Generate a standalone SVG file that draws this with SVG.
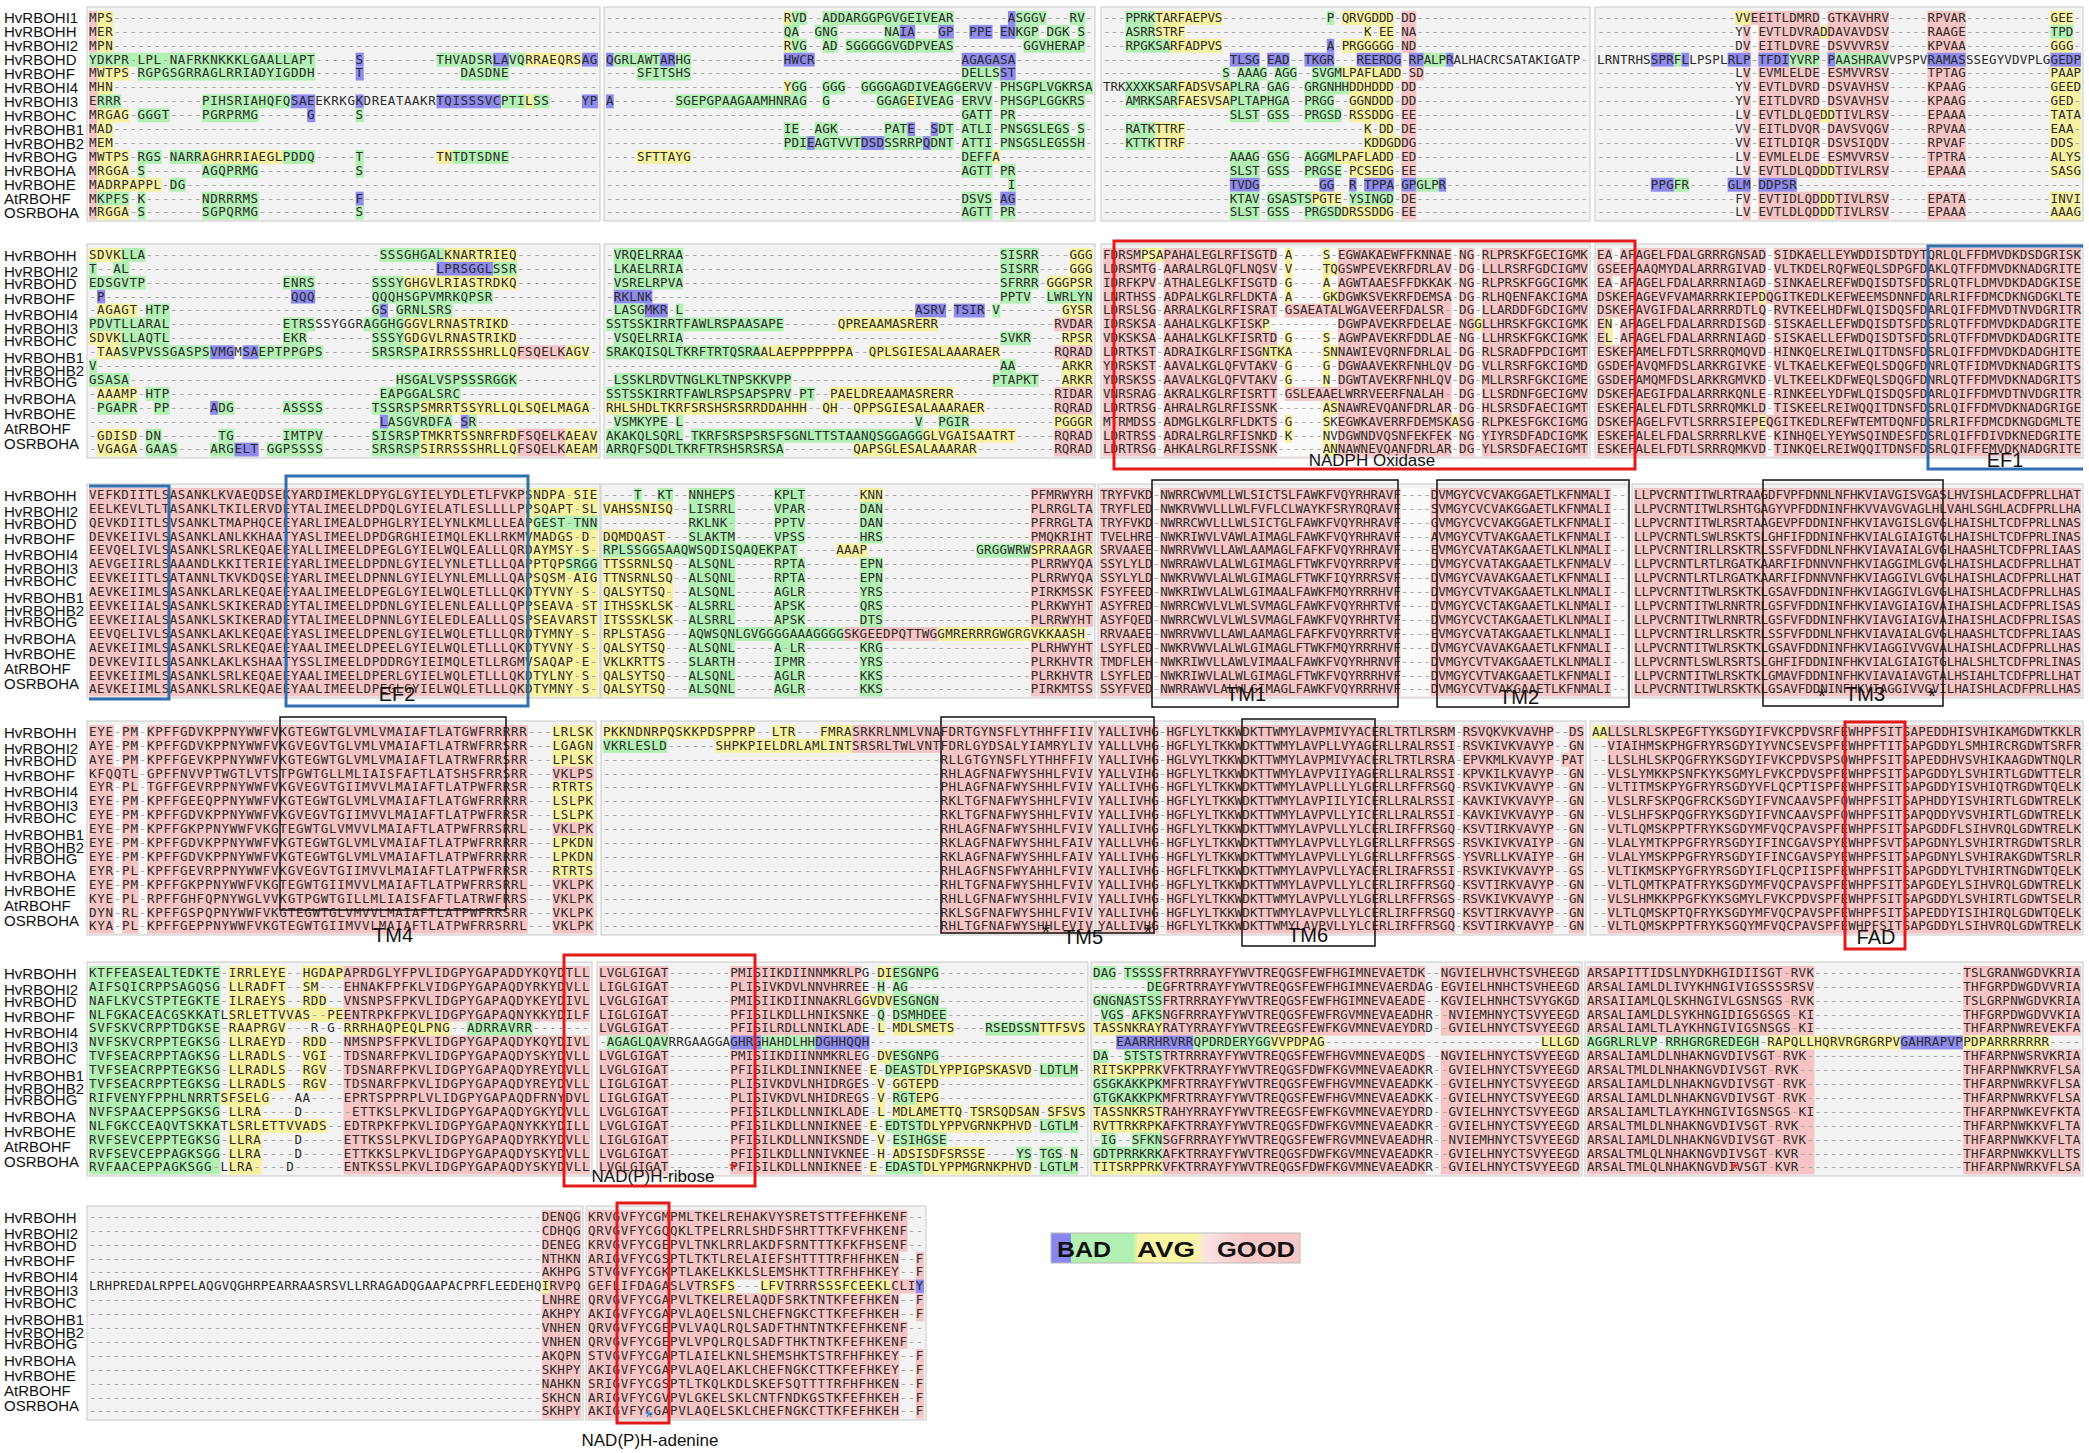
<svg xmlns="http://www.w3.org/2000/svg" width="2089" height="1453" viewBox="0 0 2089 1453">
<defs>
<style>
.lab{font-family:"Liberation Sans",Arial,sans-serif;font-size:15px;fill:#111}
.sq{font-family:"DejaVu Sans Mono","Liberation Mono",monospace;font-size:12.5px;fill:#2a2a2a}
.d{fill:#a8a8a8}
.blk{fill:#f3f3f3;stroke:#c9c9c9;stroke-width:1}
.p{fill:#f6c4c4}.y{fill:#f8f2a0}.g{fill:#b2f0b4}.b{fill:#8e8aee}.w{fill:#fafafa}
.rb{fill:none;stroke:#e31a1a;stroke-width:3}
.bb{fill:none;stroke:#2f6fb2;stroke-width:3}
.kb{fill:none;stroke:#111;stroke-width:1.5}
.ann{font-family:"Liberation Sans",Arial,sans-serif;font-size:20px;fill:#111;text-anchor:middle}
.ann2{font-family:"Liberation Sans",Arial,sans-serif;font-size:17px;fill:#111;text-anchor:middle}
</style>
<linearGradient id="leg" x1="0" x2="1" y1="0" y2="0">
<stop offset="0" stop-color="#8a86f0"/><stop offset="0.08" stop-color="#8a86f0"/>
<stop offset="0.08" stop-color="#b2f0b4"/><stop offset="0.33" stop-color="#b2f0b4"/>
<stop offset="0.35" stop-color="#f8f4a4"/><stop offset="0.58" stop-color="#f8f4a4"/>
<stop offset="0.62" stop-color="#fbe3e3"/><stop offset="0.78" stop-color="#f8c8c8"/><stop offset="1" stop-color="#f8c8c8"/>
</linearGradient>
</defs>
<rect width="2089" height="1453" fill="#fff"/>

<g id="labels" class="lab">
<text x="4" y="23.4">HvRBOHI1</text><text x="4" y="37.3">HvRBOHH</text><text x="4" y="51.2">HvRBOHI2</text><text x="4" y="65.1">HvRBOHD</text><text x="4" y="79">HvRBOHF</text><text x="4" y="92.9">HvRBOHI4</text><text x="4" y="106.8">HvRBOHI3</text><text x="4" y="120.7">HvRBOHC</text><text x="4" y="134.6">HvRBOHB1</text><text x="4" y="148.5">HvRBOHB2</text><text x="4" y="162.4">HvRBOHG</text><text x="4" y="176.3">HvRBOHA</text><text x="4" y="190.2">HvRBOHE</text><text x="4" y="204.1">AtRBOHF</text><text x="4" y="218">OSRBOHA</text>
<g transform="translate(0,244)"><text x="4" y="17.4">HvRBOHH</text><text x="4" y="33.4">HvRBOHI2</text><text x="4" y="45.4">HvRBOHD</text><text x="4" y="60.4">HvRBOHF</text><text x="4" y="76.4">HvRBOHI4</text><text x="4" y="90.4">HvRBOHI3</text><text x="4" y="102.4">HvRBOHC</text><text x="4" y="119.4">HvRBOHB1</text><text x="4" y="132.4">HvRBOHB2</text><text x="4" y="143.4">HvRBOHG</text><text x="4" y="160.4">HvRBOHA</text><text x="4" y="175.4">HvRBOHE</text><text x="4" y="190.4">AtRBOHF</text><text x="4" y="205.4">OSRBOHA</text></g>
<g transform="translate(0,484)"><text x="4" y="17.4">HvRBOHH</text><text x="4" y="33.4">HvRBOHI2</text><text x="4" y="45.4">HvRBOHD</text><text x="4" y="60.4">HvRBOHF</text><text x="4" y="76.4">HvRBOHI4</text><text x="4" y="90.4">HvRBOHI3</text><text x="4" y="102.4">HvRBOHC</text><text x="4" y="119.4">HvRBOHB1</text><text x="4" y="132.4">HvRBOHB2</text><text x="4" y="143.4">HvRBOHG</text><text x="4" y="160.4">HvRBOHA</text><text x="4" y="175.4">HvRBOHE</text><text x="4" y="190.4">AtRBOHF</text><text x="4" y="205.4">OSRBOHA</text></g>
<g transform="translate(0,721)"><text x="4" y="17.4">HvRBOHH</text><text x="4" y="33.4">HvRBOHI2</text><text x="4" y="45.4">HvRBOHD</text><text x="4" y="60.4">HvRBOHF</text><text x="4" y="76.4">HvRBOHI4</text><text x="4" y="90.4">HvRBOHI3</text><text x="4" y="102.4">HvRBOHC</text><text x="4" y="119.4">HvRBOHB1</text><text x="4" y="132.4">HvRBOHB2</text><text x="4" y="143.4">HvRBOHG</text><text x="4" y="160.4">HvRBOHA</text><text x="4" y="175.4">HvRBOHE</text><text x="4" y="190.4">AtRBOHF</text><text x="4" y="205.4">OSRBOHA</text></g>
<g transform="translate(0,962)"><text x="4" y="17.4">HvRBOHH</text><text x="4" y="33.4">HvRBOHI2</text><text x="4" y="45.4">HvRBOHD</text><text x="4" y="60.4">HvRBOHF</text><text x="4" y="76.4">HvRBOHI4</text><text x="4" y="90.4">HvRBOHI3</text><text x="4" y="102.4">HvRBOHC</text><text x="4" y="119.4">HvRBOHB1</text><text x="4" y="132.4">HvRBOHB2</text><text x="4" y="143.4">HvRBOHG</text><text x="4" y="160.4">HvRBOHA</text><text x="4" y="175.4">HvRBOHE</text><text x="4" y="190.4">AtRBOHF</text><text x="4" y="205.4">OSRBOHA</text></g>
<g transform="translate(0,1206)"><text x="4" y="17.4">HvRBOHH</text><text x="4" y="33.4">HvRBOHI2</text><text x="4" y="45.4">HvRBOHD</text><text x="4" y="60.4">HvRBOHF</text><text x="4" y="76.4">HvRBOHI4</text><text x="4" y="90.4">HvRBOHI3</text><text x="4" y="102.4">HvRBOHC</text><text x="4" y="119.4">HvRBOHB1</text><text x="4" y="132.4">HvRBOHB2</text><text x="4" y="143.4">HvRBOHG</text><text x="4" y="160.4">HvRBOHA</text><text x="4" y="175.4">HvRBOHE</text><text x="4" y="190.4">AtRBOHF</text><text x="4" y="205.4">OSRBOHA</text></g>
</g>

<g id="r1a" transform="translate(87,7)" style="letter-spacing:0.55px">
<rect class="blk" width="513" height="214"/>
<g transform="translate(2,4) scale(8.08,13.9)">
<rect class="p" x="0" y="0" width="1" height="15"/><rect class="y" x="1" y="0" width="2" height="3"/>
<rect class="g" x="0" y="3" width="28" height="1"/><rect class="b" x="33" y="3" width="1" height="1"/><rect class="g" x="43" y="3" width="7" height="1"/><rect class="b" x="50" y="3" width="2" height="1"/><rect class="g" x="52" y="3" width="2" height="1"/><rect class="y" x="54" y="3" width="7" height="1"/><rect class="b" x="61" y="3" width="2" height="1"/>
<rect class="y" x="1" y="4" width="4" height="1"/><rect class="g" x="6" y="4" width="22" height="1"/><rect class="b" x="33" y="4" width="1" height="1"/><rect class="g" x="46" y="4" width="6" height="1"/>
<rect class="y" x="1" y="5" width="2" height="1"/>
<rect class="g" x="1" y="6" width="3" height="1"/><rect class="g" x="14" y="6" width="11" height="1"/><rect class="b" x="25" y="6" width="3" height="1"/><rect class="b" x="33" y="6" width="1" height="1"/><rect class="b" x="43" y="6" width="8" height="1"/><rect class="g" x="51" y="6" width="6" height="1"/><rect class="y" x="54" y="6" width="1" height="1"/><rect class="b" x="61" y="6" width="2" height="1"/>
<rect class="y" x="1" y="7" width="4" height="1"/><rect class="g" x="6" y="7" width="4" height="1"/><rect class="g" x="14" y="7" width="7" height="1"/><rect class="b" x="27" y="7" width="1" height="1"/><rect class="g" x="33" y="7" width="1" height="1"/>
<rect class="y" x="1" y="8" width="2" height="2"/>
<rect class="y" x="1" y="10" width="4" height="1"/><rect class="g" x="6" y="10" width="3" height="1"/><rect class="g" x="10" y="10" width="4" height="1"/><rect class="y" x="14" y="10" width="10" height="1"/><rect class="g" x="24" y="10" width="4" height="1"/><rect class="g" x="33" y="10" width="1" height="1"/><rect class="y" x="43" y="10" width="2" height="1"/><rect class="g" x="45" y="10" width="7" height="1"/>
<rect class="y" x="1" y="11" width="4" height="1"/><rect class="g" x="6" y="11" width="1" height="1"/><rect class="g" x="14" y="11" width="7" height="1"/><rect class="g" x="33" y="11" width="1" height="1"/>
<rect class="y" x="1" y="12" width="8" height="1"/><rect class="g" x="10" y="12" width="2" height="1"/>
<rect class="g" x="1" y="13" width="4" height="1"/><rect class="g" x="6" y="13" width="1" height="1"/><rect class="g" x="14" y="13" width="7" height="1"/><rect class="b" x="33" y="13" width="1" height="1"/>
<rect class="y" x="1" y="14" width="4" height="1"/><rect class="g" x="6" y="14" width="1" height="1"/><rect class="g" x="14" y="14" width="7" height="1"/><rect class="g" x="33" y="14" width="1" height="1"/>
</g>
<g class="sq" transform="translate(2,0)">
<text y="14.8">MPS<tspan class="d">------------------------------------------------------------</tspan></text>
<text y="28.7">MER<tspan class="d">------------------------------------------------------------</tspan></text>
<text y="42.6">MPN<tspan class="d">------------------------------------------------------------</tspan></text>
<text y="56.5">YDKPR<tspan class="d">-</tspan>LPL<tspan class="d">-</tspan>NAFRKNKKKLGAALLAPT<tspan class="d">-----</tspan>S<tspan class="d">---------</tspan>THVADSRLAVQRRAEQRSAG</text>
<text y="70.4">MWTPS<tspan class="d">-</tspan>RGPGSGRRAGLRRIADYIGDDH<tspan class="d">-----</tspan>T<tspan class="d">------------</tspan>DASDNE<tspan class="d">-----------</tspan></text>
<text y="84.3">MHN<tspan class="d">------------------------------------------------------------</tspan></text>
<text y="98.2">ERRR<tspan class="d">----------</tspan>PIHSRIAHQFQSAEEKRKGKDREATAAKRTQISSSVCPTILSS<tspan class="d">----</tspan>YP</text>
<text y="112.1">MRGAG<tspan class="d">-</tspan>GGGT<tspan class="d">----</tspan>PGRPRMG<tspan class="d">------</tspan>G<tspan class="d">-----</tspan>S<tspan class="d">-----------------------------</tspan></text>
<text y="126">MAD<tspan class="d">------------------------------------------------------------</tspan></text>
<text y="139.9">MEM<tspan class="d">------------------------------------------------------------</tspan></text>
<text y="153.8">MWTPS<tspan class="d">-</tspan>RGS<tspan class="d">-</tspan>NARRAGHRRIAEGLPDDQ<tspan class="d">-----</tspan>T<tspan class="d">---------</tspan>TNTDTSDNE<tspan class="d">-----------</tspan></text>
<text y="167.7">MRGGA<tspan class="d">-</tspan>S<tspan class="d">-------</tspan>AGQPRMG<tspan class="d">------------</tspan>S<tspan class="d">-----------------------------</tspan></text>
<text y="181.6">MADRPAPPL<tspan class="d">-</tspan>DG<tspan class="d">---------------------------------------------------</tspan></text>
<text y="195.5">MKPFS<tspan class="d">-</tspan>K<tspan class="d">-------</tspan>NDRRRMS<tspan class="d">------------</tspan>F<tspan class="d">-----------------------------</tspan></text>
<text y="209.4">MRGGA<tspan class="d">-</tspan>S<tspan class="d">-------</tspan>SGPQRMG<tspan class="d">------------</tspan>S<tspan class="d">-----------------------------</tspan></text>
</g>
</g>

<g id="r1b" transform="translate(604,7)" style="letter-spacing:0.2px">
<rect class="blk" width="491" height="214"/>
<g transform="translate(2,4) scale(7.73,13.9)">
<rect class="y" x="23" y="0" width="1" height="1"/><rect class="g" x="24" y="0" width="2" height="1"/><rect class="g" x="28" y="0" width="17" height="1"/><rect class="b" x="52" y="0" width="1" height="1"/><rect class="g" x="53" y="0" width="4" height="1"/><rect class="g" x="60" y="0" width="2" height="1"/>
<rect class="g" x="23" y="1" width="2" height="1"/><rect class="g" x="27" y="1" width="3" height="1"/><rect class="g" x="36" y="1" width="2" height="1"/><rect class="b" x="38" y="1" width="2" height="1"/><rect class="b" x="43" y="1" width="2" height="1"/><rect class="b" x="47" y="1" width="3" height="1"/><rect class="b" x="51" y="1" width="2" height="1"/><rect class="g" x="53" y="1" width="3" height="1"/><rect class="g" x="57" y="1" width="3" height="1"/><rect class="g" x="61" y="1" width="1" height="1"/>
<rect class="y" x="23" y="2" width="1" height="1"/><rect class="g" x="24" y="2" width="2" height="1"/><rect class="g" x="28" y="2" width="2" height="1"/><rect class="g" x="31" y="2" width="14" height="1"/><rect class="g" x="54" y="2" width="8" height="1"/>
<rect class="b" x="0" y="3" width="1" height="1"/><rect class="g" x="1" y="3" width="6" height="1"/><rect class="b" x="7" y="3" width="2" height="1"/><rect class="g" x="9" y="3" width="2" height="1"/><rect class="b" x="23" y="3" width="4" height="1"/><rect class="b" x="46" y="3" width="7" height="1"/>
<rect class="g" x="4" y="4" width="7" height="1"/><rect class="g" x="46" y="4" width="5" height="1"/><rect class="b" x="51" y="4" width="2" height="1"/>
<rect class="y" x="23" y="5" width="1" height="1"/><rect class="g" x="24" y="5" width="2" height="1"/><rect class="g" x="28" y="5" width="3" height="1"/><rect class="g" x="33" y="5" width="13" height="1"/><rect class="g" x="46" y="5" width="4" height="1"/><rect class="g" x="51" y="5" width="12" height="1"/>
<rect class="b" x="0" y="6" width="1" height="1"/><rect class="g" x="9" y="6" width="17" height="1"/><rect class="g" x="28" y="6" width="1" height="1"/><rect class="g" x="35" y="6" width="10" height="1"/><rect class="y" x="39" y="6" width="1" height="1"/><rect class="g" x="46" y="6" width="4" height="1"/><rect class="g" x="51" y="6" width="11" height="1"/>
<rect class="g" x="46" y="7" width="4" height="1"/><rect class="g" x="51" y="7" width="2" height="1"/>
<rect class="g" x="23" y="8" width="2" height="1"/><rect class="g" x="27" y="8" width="3" height="1"/><rect class="g" x="36" y="8" width="3" height="1"/><rect class="b" x="39" y="8" width="1" height="1"/><rect class="b" x="42" y="8" width="1" height="1"/><rect class="g" x="43" y="8" width="2" height="1"/><rect class="g" x="46" y="8" width="4" height="1"/><rect class="g" x="51" y="8" width="9" height="1"/><rect class="g" x="61" y="8" width="1" height="1"/>
<rect class="g" x="23" y="9" width="22" height="1"/><rect class="b" x="26" y="9" width="1" height="1"/><rect class="b" x="33" y="9" width="3" height="1"/><rect class="b" x="41" y="9" width="1" height="1"/><rect class="g" x="46" y="9" width="4" height="1"/><rect class="g" x="51" y="9" width="11" height="1"/>
<rect class="y" x="4" y="10" width="7" height="1"/><rect class="g" x="46" y="10" width="4" height="1"/><rect class="y" x="50" y="10" width="1" height="1"/>
<rect class="g" x="46" y="11" width="4" height="1"/><rect class="g" x="51" y="11" width="2" height="1"/>
<rect class="g" x="52" y="12" width="1" height="1"/>
<rect class="g" x="46" y="13" width="4" height="1"/><rect class="b" x="51" y="13" width="2" height="1"/>
<rect class="g" x="46" y="14" width="4" height="1"/><rect class="g" x="51" y="14" width="2" height="1"/>
</g>
<g class="sq" transform="translate(2,0)">
<text y="14.8"><tspan class="d">-----------------------</tspan>RVD<tspan class="d">--</tspan>ADDARGGPGVGEIVEAR<tspan class="d">-------</tspan>ASGGV<tspan class="d">---</tspan>RV<tspan class="d">-</tspan></text>
<text y="28.7"><tspan class="d">-----------------------</tspan>QA<tspan class="d">--</tspan>GNG<tspan class="d">------</tspan>NAIA<tspan class="d">---</tspan>GP<tspan class="d">--</tspan>PPE<tspan class="d">-</tspan>ENKGP<tspan class="d">-</tspan>DGK<tspan class="d">-</tspan>S<tspan class="d">-</tspan></text>
<text y="42.6"><tspan class="d">-----------------------</tspan>RVG<tspan class="d">--</tspan>AD<tspan class="d">-</tspan>SGGGGGVGDPVEAS<tspan class="d">---------</tspan>GGVHERAP<tspan class="d">-</tspan></text>
<text y="56.5">QGRLAWTARHG<tspan class="d">------------</tspan>HWCR<tspan class="d">-------------------</tspan>AGAGASA<tspan class="d">----------</tspan></text>
<text y="70.4"><tspan class="d">----</tspan>SFITSHS<tspan class="d">-----------------------------------</tspan>DELLSST<tspan class="d">----------</tspan></text>
<text y="84.3"><tspan class="d">-----------------------</tspan>YGG<tspan class="d">--</tspan>GGG<tspan class="d">--</tspan>GGGGAGDIVEAGGERVV<tspan class="d">-</tspan>PHSGPLVGKRSA</text>
<text y="98.2">A<tspan class="d">--------</tspan>SGEPGPAAGAAMHNRAG<tspan class="d">--</tspan>G<tspan class="d">------</tspan>GGAGEIVEAG<tspan class="d">-</tspan>ERVV<tspan class="d">-</tspan>PHSGPLGGKRS<tspan class="d">-</tspan></text>
<text y="112.1"><tspan class="d">----------------------------------------------</tspan>GATT<tspan class="d">-</tspan>PR<tspan class="d">----------</tspan></text>
<text y="126"><tspan class="d">-----------------------</tspan>IE<tspan class="d">--</tspan>AGK<tspan class="d">------</tspan>PATE<tspan class="d">--</tspan>SDT<tspan class="d">-</tspan>ATLI<tspan class="d">-</tspan>PNSGSLEGS<tspan class="d">-</tspan>S<tspan class="d">-</tspan></text>
<text y="139.9"><tspan class="d">-----------------------</tspan>PDIEAGTVVTDSDSSRRPQDNT<tspan class="d">-</tspan>ATTI<tspan class="d">-</tspan>PNSGSLEGSSH<tspan class="d">-</tspan></text>
<text y="153.8"><tspan class="d">----</tspan>SFTTAYG<tspan class="d">-----------------------------------</tspan>DEFFA<tspan class="d">------------</tspan></text>
<text y="167.7"><tspan class="d">----------------------------------------------</tspan>AGTT<tspan class="d">-</tspan>PR<tspan class="d">----------</tspan></text>
<text y="181.6"><tspan class="d">----------------------------------------------------</tspan>I<tspan class="d">----------</tspan></text>
<text y="195.5"><tspan class="d">----------------------------------------------</tspan>DSVS<tspan class="d">-</tspan>AG<tspan class="d">----------</tspan></text>
<text y="209.4"><tspan class="d">----------------------------------------------</tspan>AGTT<tspan class="d">-</tspan>PR<tspan class="d">----------</tspan></text>
</g>
</g>

<g id="r1c" transform="translate(1101,7)" style="letter-spacing:-0.07px">
<rect class="blk" width="489" height="214"/>
<g transform="translate(2,4) scale(7.46,13.9)">
<rect class="g" x="3" y="0" width="4" height="1"/><rect class="y" x="7" y="0" width="9" height="1"/><rect class="g" x="30" y="0" width="1" height="1"/><rect class="y" x="32" y="0" width="7" height="1"/>
<rect class="g" x="3" y="1" width="4" height="1"/><rect class="y" x="7" y="1" width="4" height="1"/><rect class="y" x="35" y="1" width="1" height="1"/><rect class="y" x="37" y="1" width="2" height="1"/>
<rect class="g" x="3" y="2" width="6" height="1"/><rect class="y" x="9" y="2" width="7" height="1"/><rect class="b" x="30" y="2" width="1" height="1"/><rect class="y" x="32" y="2" width="7" height="1"/>
<rect class="p" x="40" y="0" width="2" height="3"/>
<rect class="b" x="17" y="3" width="4" height="1"/><rect class="b" x="22" y="3" width="3" height="1"/><rect class="b" x="27" y="3" width="4" height="1"/><rect class="b" x="34" y="3" width="6" height="1"/><rect class="b" x="41" y="3" width="2" height="1"/><rect class="g" x="43" y="3" width="3" height="1"/><rect class="b" x="46" y="3" width="1" height="1"/>
<rect class="g" x="16" y="4" width="1" height="1"/><rect class="g" x="18" y="4" width="4" height="1"/><rect class="g" x="23" y="4" width="3" height="1"/><rect class="g" x="28" y="4" width="4" height="1"/><rect class="y" x="32" y="4" width="8" height="1"/><rect class="p" x="41" y="4" width="2" height="1"/>
<rect class="g" x="3" y="5" width="7" height="1"/><rect class="y" x="10" y="5" width="7" height="1"/><rect class="g" x="17" y="5" width="4" height="1"/><rect class="g" x="22" y="5" width="3" height="1"/><rect class="g" x="27" y="5" width="6" height="1"/><rect class="y" x="33" y="5" width="6" height="1"/>
<rect class="g" x="3" y="6" width="7" height="1"/><rect class="y" x="10" y="6" width="7" height="1"/><rect class="g" x="17" y="6" width="8" height="1"/><rect class="g" x="27" y="6" width="4" height="1"/><rect class="y" x="33" y="6" width="6" height="1"/>
<rect class="g" x="17" y="7" width="4" height="1"/><rect class="g" x="22" y="7" width="3" height="1"/><rect class="g" x="27" y="7" width="5" height="1"/><rect class="y" x="33" y="7" width="6" height="1"/>
<rect class="g" x="3" y="8" width="4" height="1"/><rect class="y" x="7" y="8" width="4" height="1"/><rect class="y" x="35" y="8" width="1" height="1"/><rect class="y" x="37" y="8" width="2" height="1"/>
<rect class="g" x="3" y="9" width="4" height="1"/><rect class="y" x="7" y="9" width="4" height="1"/><rect class="y" x="35" y="9" width="5" height="1"/>
<rect class="p" x="40" y="5" width="2" height="5"/>
<rect class="g" x="17" y="10" width="4" height="1"/><rect class="g" x="22" y="10" width="3" height="1"/><rect class="g" x="27" y="10" width="4" height="1"/><rect class="y" x="31" y="10" width="8" height="1"/>
<rect class="g" x="17" y="11" width="4" height="1"/><rect class="g" x="22" y="11" width="3" height="1"/><rect class="g" x="27" y="11" width="5" height="1"/><rect class="y" x="33" y="11" width="6" height="1"/>
<rect class="p" x="40" y="10" width="2" height="2"/>
<rect class="b" x="17" y="12" width="4" height="1"/><rect class="b" x="29" y="12" width="2" height="1"/><rect class="b" x="33" y="12" width="1" height="1"/><rect class="b" x="35" y="12" width="4" height="1"/><rect class="b" x="40" y="12" width="2" height="1"/><rect class="g" x="42" y="12" width="3" height="1"/><rect class="b" x="45" y="12" width="1" height="1"/>
<rect class="g" x="17" y="13" width="4" height="1"/><rect class="g" x="22" y="13" width="6" height="1"/><rect class="y" x="28" y="13" width="4" height="1"/><rect class="g" x="33" y="13" width="6" height="1"/>
<rect class="g" x="17" y="14" width="4" height="1"/><rect class="g" x="22" y="14" width="3" height="1"/><rect class="g" x="27" y="14" width="5" height="1"/><rect class="y" x="32" y="14" width="7" height="1"/>
<rect class="p" x="40" y="13" width="2" height="2"/>
</g>
<g class="sq" transform="translate(2,0)">
<text y="14.8"><tspan class="d">---</tspan>PPRKTARFAEPVS<tspan class="d">--------------</tspan>P<tspan class="d">-</tspan>QRVGDDD<tspan class="d">-</tspan>DD<tspan class="d">-----------------------</tspan></text>
<text y="28.7"><tspan class="d">---</tspan>ASRRSTRF<tspan class="d">------------------------</tspan>K<tspan class="d">-</tspan>EE<tspan class="d">-</tspan>NA<tspan class="d">-----------------------</tspan></text>
<text y="42.6"><tspan class="d">---</tspan>RPGKSARFADPVS<tspan class="d">--------------</tspan>A<tspan class="d">-</tspan>PRGGGGG<tspan class="d">-</tspan>ND<tspan class="d">-----------------------</tspan></text>
<text y="56.5"><tspan class="d">-----------------</tspan>TLSG<tspan class="d">-</tspan>EAD<tspan class="d">--</tspan>TKGR<tspan class="d">---</tspan>REERDG<tspan class="d">-</tspan>RPALPRALHACRCSATAKIGATP<tspan class="d">-</tspan></text>
<text y="70.4"><tspan class="d">----------------</tspan>S<tspan class="d">-</tspan>AAAG<tspan class="d">-</tspan>AGG<tspan class="d">--</tspan>SVGMLPAFLADD<tspan class="d">-</tspan>SD<tspan class="d">----------------------</tspan></text>
<text y="84.3">TRKXXXKSARFADSVSAPLRA<tspan class="d">-</tspan>GAG<tspan class="d">--</tspan>GRGNHHDDHDDD<tspan class="d">-</tspan>DD<tspan class="d">-----------------------</tspan></text>
<text y="98.2"><tspan class="d">---</tspan>AMRKSARFAESVSAPLTAPHGA<tspan class="d">--</tspan>PRGG<tspan class="d">--</tspan>GGNDDD<tspan class="d">-</tspan>DD<tspan class="d">-----------------------</tspan></text>
<text y="112.1"><tspan class="d">-----------------</tspan>SLST<tspan class="d">-</tspan>GSS<tspan class="d">--</tspan>PRGSD<tspan class="d">-</tspan>RSSDDG<tspan class="d">-</tspan>EE<tspan class="d">-----------------------</tspan></text>
<text y="126"><tspan class="d">---</tspan>RATKTTRF<tspan class="d">------------------------</tspan>K<tspan class="d">-</tspan>DD<tspan class="d">-</tspan>DE<tspan class="d">-----------------------</tspan></text>
<text y="139.9"><tspan class="d">---</tspan>KTTKTTRF<tspan class="d">------------------------</tspan>KDDGDDG<tspan class="d">-----------------------</tspan></text>
<text y="153.8"><tspan class="d">-----------------</tspan>AAAG<tspan class="d">-</tspan>GSG<tspan class="d">--</tspan>AGGMLPAFLADD<tspan class="d">-</tspan>ED<tspan class="d">-----------------------</tspan></text>
<text y="167.7"><tspan class="d">-----------------</tspan>SLST<tspan class="d">-</tspan>GSS<tspan class="d">--</tspan>PRGSE<tspan class="d">-</tspan>PCSEDG<tspan class="d">-</tspan>EE<tspan class="d">-----------------------</tspan></text>
<text y="181.6"><tspan class="d">-----------------</tspan>TVDG<tspan class="d">--------</tspan>GG<tspan class="d">--</tspan>R<tspan class="d">-</tspan>TPPA<tspan class="d">-</tspan>GPGLPR<tspan class="d">-------------------</tspan></text>
<text y="195.5"><tspan class="d">-----------------</tspan>KTAV<tspan class="d">-</tspan>GSASTSPGTE<tspan class="d">-</tspan>YSINGD<tspan class="d">-</tspan>DE<tspan class="d">-----------------------</tspan></text>
<text y="209.4"><tspan class="d">-----------------</tspan>SLST<tspan class="d">-</tspan>GSS<tspan class="d">--</tspan>PRGSDDRSSDDG<tspan class="d">-</tspan>EE<tspan class="d">-----------------------</tspan></text>
</g>
</g>

<g id="r1d" transform="translate(1595,7)" style="letter-spacing:0.16px">
<rect class="blk" width="488" height="214"/>
<g transform="translate(2,4) scale(7.683,13.9)">
<rect class="p" x="19" y="0" width="19" height="3"/><rect class="p" x="19" y="4" width="19" height="8"/><rect class="p" x="19" y="13" width="19" height="2"/>
<rect class="w" x="20" y="1" width="1" height="2"/><rect class="w" x="20" y="4" width="1" height="8"/><rect class="w" x="20" y="13" width="1" height="2"/>
<rect class="w" x="29" y="0" width="1" height="1"/><rect class="w" x="29" y="2" width="1" height="1"/><rect class="w" x="29" y="4" width="1" height="3"/><rect class="w" x="29" y="8" width="1" height="3"/>
<rect class="y" x="29" y="1" width="1" height="1"/><rect class="y" x="29" y="7" width="2" height="1"/><rect class="y" x="29" y="11" width="2" height="1"/><rect class="y" x="29" y="13" width="2" height="2"/>
<rect class="p" x="43" y="0" width="5" height="3"/><rect class="p" x="43" y="4" width="5" height="8"/><rect class="p" x="43" y="13" width="5" height="2"/>
<rect class="y" x="18" y="0" width="2" height="1"/><rect class="y" x="59" y="0" width="3" height="1"/><rect class="g" x="59" y="1" width="3" height="1"/><rect class="y" x="59" y="2" width="3" height="1"/>
<rect class="y" x="59" y="4" width="4" height="8"/><rect class="y" x="59" y="13" width="4" height="2"/>
<rect class="b" x="7" y="3" width="3" height="1"/><rect class="g" x="10" y="3" width="1" height="1"/><rect class="b" x="11" y="3" width="1" height="1"/><rect class="b" x="17" y="3" width="3" height="1"/><rect class="b" x="21" y="3" width="4" height="1"/><rect class="g" x="25" y="3" width="4" height="1"/><rect class="b" x="30" y="3" width="1" height="1"/><rect class="g" x="31" y="3" width="7" height="1"/><rect class="b" x="43" y="3" width="5" height="1"/><rect class="b" x="59" y="3" width="4" height="1"/>
<rect class="b" x="7" y="12" width="3" height="1"/><rect class="g" x="10" y="12" width="2" height="1"/><rect class="b" x="17" y="12" width="3" height="1"/><rect class="b" x="21" y="12" width="5" height="1"/>
</g>
<g class="sq" transform="translate(2,0)">
<text y="14.8"><tspan class="d">------------------</tspan>VVEEITLDMRD<tspan class="d">-</tspan>GTKAVHRV<tspan class="d">-----</tspan>RPVAR<tspan class="d">-----------</tspan>GEE<tspan class="d">-</tspan></text>
<text y="28.7"><tspan class="d">------------------</tspan>YV<tspan class="d">-</tspan>EVTLDVRADDAVAVDSV<tspan class="d">-----</tspan>RAAGE<tspan class="d">-----------</tspan>TPD<tspan class="d">-</tspan></text>
<text y="42.6"><tspan class="d">------------------</tspan>DV<tspan class="d">-</tspan>EITLDVRE<tspan class="d">-</tspan>DSVVVRSV<tspan class="d">-----</tspan>KPVAA<tspan class="d">-----------</tspan>GGG<tspan class="d">-</tspan></text>
<text y="56.5">LRNTRHSSPRFLLPSPLRLP<tspan class="d">-</tspan>TFDIYVRP<tspan class="d">-</tspan>PAASHRAVVPSPVRAMASSSEGYVDVPLGGEDP</text>
<text y="70.4"><tspan class="d">------------------</tspan>LV<tspan class="d">-</tspan>EVMLELDE<tspan class="d">-</tspan>ESMVVRSV<tspan class="d">-----</tspan>TPTAG<tspan class="d">-----------</tspan>PAAP</text>
<text y="84.3"><tspan class="d">------------------</tspan>YV<tspan class="d">-</tspan>EVTLDVRD<tspan class="d">-</tspan>DSVAVHSV<tspan class="d">-----</tspan>KPAAG<tspan class="d">-----------</tspan>GEED</text>
<text y="98.2"><tspan class="d">------------------</tspan>YV<tspan class="d">-</tspan>EITLDVRD<tspan class="d">-</tspan>DSVAVHSV<tspan class="d">-----</tspan>KPAAG<tspan class="d">-----------</tspan>GED<tspan class="d">-</tspan></text>
<text y="112.1"><tspan class="d">------------------</tspan>LV<tspan class="d">-</tspan>EVTLDLQEDDTIVLRSV<tspan class="d">-----</tspan>EPAAA<tspan class="d">-----------</tspan>TATA</text>
<text y="126"><tspan class="d">------------------</tspan>VV<tspan class="d">-</tspan>EITLDVQR<tspan class="d">-</tspan>DAVSVQGV<tspan class="d">-----</tspan>RPVAA<tspan class="d">-----------</tspan>EAA<tspan class="d">-</tspan></text>
<text y="139.9"><tspan class="d">------------------</tspan>VV<tspan class="d">-</tspan>EITLDIQR<tspan class="d">-</tspan>DSVSIQDV<tspan class="d">-----</tspan>RPVAF<tspan class="d">-----------</tspan>DDS<tspan class="d">-</tspan></text>
<text y="153.8"><tspan class="d">------------------</tspan>LV<tspan class="d">-</tspan>EVMLELDE<tspan class="d">-</tspan>ESMVVRSV<tspan class="d">-----</tspan>TPTRA<tspan class="d">-----------</tspan>ALYS</text>
<text y="167.7"><tspan class="d">------------------</tspan>LV<tspan class="d">-</tspan>EVTLDLQDDDTIVLRSV<tspan class="d">-----</tspan>EPAAA<tspan class="d">-----------</tspan>SASG</text>
<text y="181.6"><tspan class="d">-------</tspan>PPGFR<tspan class="d">-----</tspan>GLM<tspan class="d">-</tspan>DDPSR<tspan class="d">-------------------------------------</tspan></text>
<text y="195.5"><tspan class="d">------------------</tspan>FV<tspan class="d">-</tspan>EVTIDLQDDDTIVLRSV<tspan class="d">-----</tspan>EPATA<tspan class="d">-----------</tspan>INVI</text>
<text y="209.4"><tspan class="d">------------------</tspan>LV<tspan class="d">-</tspan>EVTLDLQDDDTIVLRSV<tspan class="d">-----</tspan>EPAAA<tspan class="d">-----------</tspan>AAAG</text>
</g>
</g>

<g id="r2a" transform="translate(87,244)" style="letter-spacing:0.55px">
<rect class="blk" width="513" height="214"/>
<g transform="translate(2,4) scale(8.08,13.9)">
<rect class="y" x="0" y="0" width="4" height="1"/><rect class="g" x="4" y="0" width="3" height="1"/><rect class="g" x="36" y="0" width="8" height="1"/><rect class="y" x="44" y="0" width="9" height="1"/>
<rect class="g" x="0" y="1" width="1" height="1"/><rect class="g" x="3" y="1" width="2" height="1"/><rect class="b" x="43" y="1" width="7" height="1"/><rect class="g" x="50" y="1" width="3" height="1"/>
<rect class="g" x="0" y="2" width="7" height="1"/><rect class="g" x="24" y="2" width="4" height="1"/><rect class="g" x="35" y="2" width="4" height="1"/><rect class="y" x="39" y="2" width="14" height="1"/>
<rect class="b" x="1" y="3" width="1" height="1"/><rect class="b" x="25" y="3" width="3" height="1"/><rect class="g" x="35" y="3" width="15" height="1"/>
<rect class="y" x="1" y="4" width="5" height="1"/><rect class="g" x="7" y="4" width="3" height="1"/><rect class="g" x="35" y="4" width="1" height="1"/><rect class="b" x="36" y="4" width="1" height="1"/><rect class="g" x="38" y="4" width="7" height="1"/>
<rect class="g" x="0" y="5" width="10" height="1"/><rect class="g" x="24" y="5" width="4" height="1"/><rect class="g" x="34" y="5" width="5" height="1"/><rect class="y" x="39" y="5" width="13" height="1"/>
<rect class="y" x="0" y="6" width="4" height="1"/><rect class="g" x="4" y="6" width="6" height="1"/><rect class="g" x="24" y="6" width="3" height="1"/><rect class="g" x="35" y="6" width="4" height="1"/><rect class="y" x="39" y="6" width="14" height="1"/>
<rect class="y" x="1" y="7" width="3" height="1"/><rect class="g" x="4" y="7" width="11" height="1"/><rect class="b" x="15" y="7" width="3" height="1"/><rect class="b" x="19" y="7" width="2" height="1"/><rect class="g" x="21" y="7" width="8" height="1"/><rect class="g" x="35" y="7" width="6" height="1"/><rect class="y" x="41" y="7" width="12" height="1"/><rect class="p" x="53" y="7" width="6" height="1"/><rect class="y" x="59" y="7" width="3" height="1"/>
<rect class="g" x="0" y="8" width="1" height="1"/>
<rect class="g" x="0" y="9" width="5" height="1"/><rect class="g" x="38" y="9" width="15" height="1"/>
<rect class="y" x="1" y="10" width="5" height="1"/><rect class="g" x="7" y="10" width="3" height="1"/><rect class="g" x="36" y="10" width="10" height="1"/>
<rect class="g" x="1" y="11" width="5" height="1"/><rect class="g" x="8" y="11" width="2" height="1"/><rect class="b" x="15" y="11" width="1" height="1"/><rect class="g" x="16" y="11" width="2" height="1"/><rect class="g" x="24" y="11" width="5" height="1"/><rect class="g" x="35" y="11" width="6" height="1"/><rect class="y" x="41" y="11" width="21" height="1"/>
<rect class="b" x="36" y="12" width="1" height="1"/><rect class="g" x="37" y="12" width="8" height="1"/><rect class="b" x="46" y="12" width="1" height="1"/><rect class="g" x="47" y="12" width="1" height="1"/>
<rect class="y" x="1" y="13" width="5" height="1"/><rect class="g" x="7" y="13" width="2" height="1"/><rect class="g" x="16" y="13" width="2" height="1"/><rect class="g" x="24" y="13" width="5" height="1"/><rect class="g" x="35" y="13" width="6" height="1"/><rect class="y" x="41" y="13" width="12" height="1"/><rect class="p" x="53" y="13" width="6" height="1"/><rect class="y" x="59" y="13" width="4" height="1"/>
<rect class="y" x="1" y="14" width="5" height="1"/><rect class="g" x="7" y="14" width="4" height="1"/><rect class="g" x="15" y="14" width="3" height="1"/><rect class="b" x="18" y="14" width="3" height="1"/><rect class="g" x="22" y="14" width="7" height="1"/><rect class="g" x="35" y="14" width="6" height="1"/><rect class="y" x="41" y="14" width="12" height="1"/><rect class="p" x="53" y="14" width="6" height="1"/><rect class="y" x="59" y="14" width="4" height="1"/>
</g>
<g class="sq" transform="translate(2,0)">
<text y="14.8">SDVKLLA<tspan class="d">-----------------------------</tspan>SSSGHGALKNARTRIEQ<tspan class="d">----------</tspan></text>
<text y="28.7">T<tspan class="d">--</tspan>AL<tspan class="d">--------------------------------------</tspan>LPRSGGLSSR<tspan class="d">----------</tspan></text>
<text y="42.6">EDSGVTP<tspan class="d">-----------------</tspan>ENRS<tspan class="d">-------</tspan>SSSYGHGVLRIASTRDKQ<tspan class="d">----------</tspan></text>
<text y="56.5"><tspan class="d">-</tspan>P<tspan class="d">-----------------------</tspan>QQQ<tspan class="d">-------</tspan>QQQHSGPVMRKQPSR<tspan class="d">-------------</tspan></text>
<text y="70.4"><tspan class="d">-</tspan>AGAGT<tspan class="d">-</tspan>HTP<tspan class="d">-------------------------</tspan>GS<tspan class="d">-</tspan>GRNLSRS<tspan class="d">------------------</tspan></text>
<text y="84.3">PDVTLLARAL<tspan class="d">--------------</tspan>ETRSSSYGGRAGGHGGGVLRNASTRIKD<tspan class="d">-----------</tspan></text>
<text y="98.2">SDVKLLAQTL<tspan class="d">--------------</tspan>EKR<tspan class="d">--------</tspan>SSSYGDGVLRNASTRIKD<tspan class="d">----------</tspan></text>
<text y="112.1"><tspan class="d">-</tspan>TAASVPVSSGASPSVMGMSAEPTPPGPS<tspan class="d">------</tspan>SRSRSPAIRRSSSHRLLQFSQELKAGV<tspan class="d">-</tspan></text>
<text y="126">V<tspan class="d">--------------------------------------------------------------</tspan></text>
<text y="139.9">GSASA<tspan class="d">---------------------------------</tspan>HSGALVSPSSSRGGK<tspan class="d">----------</tspan></text>
<text y="153.8"><tspan class="d">-</tspan>AAAMP<tspan class="d">-</tspan>HTP<tspan class="d">--------------------------</tspan>EAPGGALSRC<tspan class="d">-----------------</tspan></text>
<text y="167.7"><tspan class="d">-</tspan>PGAPR<tspan class="d">--</tspan>PP<tspan class="d">-----</tspan>ADG<tspan class="d">------</tspan>ASSSS<tspan class="d">------</tspan>TSSRSPSMRRTSSYRLLQLSQELMAGA<tspan class="d">-</tspan></text>
<text y="181.6"><tspan class="d">------------------------------------</tspan>LASGVRDFA<tspan class="d">-</tspan>SR<tspan class="d">---------------</tspan></text>
<text y="195.5"><tspan class="d">-</tspan>GDISD<tspan class="d">-</tspan>DN<tspan class="d">-------</tspan>TG<tspan class="d">------</tspan>IMTPV<tspan class="d">------</tspan>SISRSPTMKRTSSNRFRDFSQELKAEAV</text>
<text y="209.4"><tspan class="d">-</tspan>VGAGA<tspan class="d">-</tspan>GAAS<tspan class="d">----</tspan>ARGELT<tspan class="d">-</tspan>GGPSSSS<tspan class="d">------</tspan>SRSRSPSIRRSSSHRLLQFSQELKAEAM</text>
</g>
</g>

<g id="r2b" transform="translate(604,244)" style="letter-spacing:0.2px">
<rect class="blk" width="491" height="214"/>
<g transform="translate(2,4) scale(7.73,13.9)">
<rect class="g" x="1" y="0" width="9" height="2"/><rect class="g" x="51" y="0" width="5" height="3"/><rect class="y" x="60" y="0" width="3" height="2"/>
<rect class="g" x="1" y="2" width="9" height="1"/><rect class="y" x="57" y="2" width="6" height="1"/>
<rect class="b" x="1" y="3" width="5" height="1"/><rect class="g" x="51" y="3" width="4" height="1"/><rect class="g" x="57" y="3" width="6" height="1"/>
<rect class="g" x="1" y="4" width="4" height="1"/><rect class="b" x="5" y="4" width="3" height="1"/><rect class="g" x="9" y="4" width="1" height="1"/><rect class="b" x="40" y="4" width="4" height="1"/><rect class="b" x="45" y="4" width="4" height="1"/><rect class="g" x="50" y="4" width="1" height="1"/><rect class="y" x="59" y="4" width="4" height="1"/>
<rect class="g" x="0" y="5" width="23" height="1"/><rect class="y" x="30" y="5" width="13" height="1"/><rect class="p" x="58" y="5" width="5" height="1"/>
<rect class="g" x="1" y="6" width="9" height="1"/><rect class="g" x="51" y="6" width="4" height="1"/><rect class="y" x="59" y="6" width="4" height="1"/>
<rect class="g" x="0" y="7" width="20" height="1"/><rect class="y" x="20" y="7" width="12" height="1"/><rect class="y" x="34" y="7" width="17" height="1"/><rect class="p" x="58" y="7" width="5" height="1"/>
<rect class="g" x="51" y="8" width="2" height="1"/><rect class="y" x="59" y="8" width="4" height="1"/>
<rect class="g" x="1" y="9" width="23" height="1"/><rect class="g" x="50" y="9" width="6" height="1"/><rect class="y" x="59" y="9" width="4" height="1"/>
<rect class="g" x="0" y="10" width="24" height="1"/><rect class="g" x="25" y="10" width="2" height="1"/><rect class="y" x="29" y="10" width="16" height="1"/><rect class="p" x="58" y="10" width="5" height="1"/>
<rect class="y" x="0" y="11" width="26" height="1"/><rect class="y" x="28" y="11" width="2" height="1"/><rect class="y" x="32" y="11" width="17" height="1"/><rect class="p" x="58" y="11" width="5" height="1"/>
<rect class="g" x="1" y="12" width="7" height="1"/><rect class="g" x="9" y="12" width="1" height="1"/><rect class="g" x="40" y="12" width="1" height="1"/><rect class="g" x="43" y="12" width="4" height="1"/><rect class="y" x="58" y="12" width="5" height="1"/>
<rect class="g" x="0" y="13" width="10" height="1"/><rect class="g" x="11" y="13" width="30" height="1"/><rect class="y" x="41" y="13" width="12" height="1"/><rect class="p" x="58" y="13" width="5" height="1"/>
<rect class="g" x="0" y="14" width="23" height="1"/><rect class="y" x="32" y="14" width="16" height="1"/><rect class="p" x="58" y="14" width="5" height="1"/>
</g>
<g class="sq" transform="translate(2,0)">
<text y="14.8"><tspan class="d">-</tspan>VRQELRRAA<tspan class="d">-----------------------------------------</tspan>SISRR<tspan class="d">----</tspan>GGG</text>
<text y="28.7"><tspan class="d">-</tspan>LKAELRRIA<tspan class="d">-----------------------------------------</tspan>SISRR<tspan class="d">----</tspan>GGG</text>
<text y="42.6"><tspan class="d">-</tspan>VSRELRPVA<tspan class="d">-----------------------------------------</tspan>SFRRR<tspan class="d">-</tspan>GGGPSR</text>
<text y="56.5"><tspan class="d">-</tspan>RKLNK<tspan class="d">---------------------------------------------</tspan>PPTV<tspan class="d">--</tspan>LWRLYN</text>
<text y="70.4"><tspan class="d">-</tspan>LASGMKR<tspan class="d">-</tspan>L<tspan class="d">------------------------------</tspan>ASRV<tspan class="d">-</tspan>TSIR<tspan class="d">-</tspan>V<tspan class="d">--------</tspan>GYSR</text>
<text y="84.3">SSTSSKIRRTFAWLRSPAASAPE<tspan class="d">-------</tspan>QPREAAMASRERR<tspan class="d">---------------</tspan>RVDAR</text>
<text y="98.2"><tspan class="d">-</tspan>VSQELRRIA<tspan class="d">-----------------------------------------</tspan>SVKR<tspan class="d">----</tspan>RPSR</text>
<text y="112.1">SRAKQISQLTKRFTRTQSRAALAEPPPPPPPA<tspan class="d">--</tspan>QPLSGIESALAAARAER<tspan class="d">-------</tspan>RQRAD</text>
<text y="126"><tspan class="d">---------------------------------------------------</tspan>AA<tspan class="d">------</tspan>ARKR</text>
<text y="139.9"><tspan class="d">-</tspan>LSSKLRDVTNGLKLTNPSKKVPP<tspan class="d">--------------------------</tspan>PTAPKT<tspan class="d">---</tspan>ARKR</text>
<text y="153.8">SSTSSKIRRTFAWLRSPSAPSPRV<tspan class="d">-</tspan>PT<tspan class="d">--</tspan>PAELDREAAMASRERR<tspan class="d">-------------</tspan>RIDAR</text>
<text y="167.7">RHLSHDLTKRFSRSHSRSRRDDAHHH<tspan class="d">--</tspan>QH<tspan class="d">--</tspan>QPPSGIESALAAARAER<tspan class="d">---------</tspan>RQRAD</text>
<text y="181.6"><tspan class="d">-</tspan>VSMKYPE<tspan class="d">-</tspan>L<tspan class="d">------------------------------</tspan>V<tspan class="d">--</tspan>PGIR<tspan class="d">-----------</tspan>PGGGR</text>
<text y="195.5">AKAKQLSQRL<tspan class="d">-</tspan>TKRFSRSPSRSFSGNLTTSTAANQSGGAGGGLVGAISAATRT<tspan class="d">-----</tspan>RQRAD</text>
<text y="209.4">ARRQFSQDLTKRFTRSHSRSRSA<tspan class="d">---------</tspan>QAPSGLESALAAARAR<tspan class="d">----------</tspan>RQRAD</text>
</g>
</g>

<g id="r2c" transform="translate(1101,244)" style="letter-spacing:0.05px">
<rect class="blk" width="489" height="214"/>
<g transform="translate(2,4) scale(7.578,13.9)">
<rect class="p" x="0" y="0" width="64" height="15"/>
<rect class="w" x="7" y="1" width="1" height="14"/>
<rect class="w" x="23" y="0" width="8" height="4"/><rect class="w" x="22" y="5" width="9" height="1"/><rect class="w" x="23" y="6" width="8" height="4"/><rect class="w" x="23" y="11" width="8" height="4"/><rect class="w" x="23" y="4" width="1" height="1"/><rect class="w" x="23" y="10" width="1" height="1"/>
<rect class="w" x="46" y="0" width="1" height="12"/><rect class="w" x="46" y="13" width="1" height="2"/><rect class="w" x="49" y="0" width="1" height="5"/><rect class="w" x="49" y="6" width="1" height="9"/>
<rect class="y" x="5" y="0" width="3" height="1"/>
<rect class="y" x="24" y="0" width="1" height="4"/><rect class="y" x="29" y="0" width="1" height="4"/><rect class="y" x="30" y="1" width="1" height="1"/><rect class="y" x="30" y="3" width="1" height="1"/>
<rect class="y" x="21" y="5" width="1" height="1"/><rect class="y" x="49" y="5" width="1" height="1"/>
<rect class="y" x="24" y="6" width="1" height="1"/><rect class="y" x="29" y="6" width="1" height="1"/>
<rect class="y" x="21" y="7" width="4" height="1"/><rect class="y" x="29" y="7" width="2" height="1"/>
<rect class="y" x="24" y="8" width="1" height="2"/><rect class="y" x="29" y="8" width="1" height="2"/>
<rect class="y" x="29" y="11" width="2" height="1"/>
<rect class="y" x="24" y="12" width="1" height="2"/><rect class="y" x="29" y="12" width="1" height="2"/><rect class="y" x="46" y="12" width="1" height="1"/>
<rect class="y" x="29" y="14" width="2" height="1"/>
</g>
<g class="sq" transform="translate(2,0)">
<text y="14.8">FDRSMPSAPAHALEGLRFISGTD<tspan class="d">-</tspan>A<tspan class="d">----</tspan>S<tspan class="d">-</tspan>EGWAKAEWFFKNNAE<tspan class="d">-</tspan>NG<tspan class="d">-</tspan>RLPRSKFGECIGMK</text>
<text y="28.7">LDRSMTG<tspan class="d">-</tspan>AARALRGLQFLNQSV<tspan class="d">-</tspan>V<tspan class="d">----</tspan>TQGSWPEVEKRFDRLAV<tspan class="d">-</tspan>DG<tspan class="d">-</tspan>LLLRSRFGDCIGMV</text>
<text y="42.6">IDRFKPV<tspan class="d">-</tspan>ATHALEGLKFISGTD<tspan class="d">-</tspan>G<tspan class="d">----</tspan>A<tspan class="d">-</tspan>AGWTAAESFFDKKAK<tspan class="d">-</tspan>NG<tspan class="d">-</tspan>RLPRSKFGGCIGMK</text>
<text y="56.5">LNRTHSS<tspan class="d">-</tspan>ADPALKGLRFLDKTA<tspan class="d">-</tspan>A<tspan class="d">----</tspan>GKDGWKSVEKRFDEMSA<tspan class="d">-</tspan>DG<tspan class="d">-</tspan>RLHQENFAKCIGMA</text>
<text y="70.4">LDRSLSG<tspan class="d">-</tspan>ARRALKGLRFISRAT<tspan class="d">-</tspan>GSAEATALWGAVEERFDALSR<tspan class="d">--</tspan>DG<tspan class="d">-</tspan>LLARDDFGDCIGMV</text>
<text y="84.3">IDRSKSA<tspan class="d">-</tspan>AAHALKGLKFISKP<tspan class="d">---------</tspan>DGWPAVEKRFDELAE<tspan class="d">-</tspan>NGGLLHRSKFGKCIGMK</text>
<text y="98.2">VDKSKSA<tspan class="d">-</tspan>AAHALKGLKFISRTD<tspan class="d">-</tspan>G<tspan class="d">----</tspan>S<tspan class="d">-</tspan>AGWPAVEKRFDDLAE<tspan class="d">-</tspan>NG<tspan class="d">-</tspan>LLHRSKFGKCIGMK</text>
<text y="112.1">LDRTKST<tspan class="d">-</tspan>ADRAIKGLRFISGNTKA<tspan class="d">----</tspan>SNNAWIEVQRNFDRLAL<tspan class="d">-</tspan>DG<tspan class="d">-</tspan>RLSRADFPDCIGMT</text>
<text y="126">YDRSKST<tspan class="d">-</tspan>AAVALKGLQFVTAKV<tspan class="d">-</tspan>G<tspan class="d">----</tspan>G<tspan class="d">-</tspan>DGWAAVEKRFNHLQV<tspan class="d">-</tspan>DG<tspan class="d">-</tspan>VLLRSRFGKCIGMD</text>
<text y="139.9">YDRSKSS<tspan class="d">-</tspan>AAVALKGLQFVTAKV<tspan class="d">-</tspan>G<tspan class="d">----</tspan>N<tspan class="d">-</tspan>DGWTAVEKRFNHLQV<tspan class="d">-</tspan>DG<tspan class="d">-</tspan>MLLRSRFGKCIGME</text>
<text y="153.8">VNRSRAG<tspan class="d">-</tspan>AKRALKGLRFISRTT<tspan class="d">-</tspan>GSLEAAELWRRVEERFNALAH<tspan class="d">--</tspan>DG<tspan class="d">-</tspan>LLSRDNFGECIGMV</text>
<text y="167.7">LDRTRSG<tspan class="d">-</tspan>AHRALRGLRFISSNK<tspan class="d">------</tspan>ASNAWREVQANFDRLAR<tspan class="d">-</tspan>DG<tspan class="d">-</tspan>HLSRSDFAECIGMT</text>
<text y="181.6">MTRMDSS<tspan class="d">-</tspan>ADMGLKGLRFLDKTS<tspan class="d">-</tspan>G<tspan class="d">----</tspan>SKEGWKAVERRFDEMSKASG<tspan class="d">-</tspan>RLPKESFGKCIGMG</text>
<text y="195.5">LDRTRSS<tspan class="d">-</tspan>ADRALRGLRFISNKD<tspan class="d">-</tspan>K<tspan class="d">----</tspan>NVDGWNDVQSNFEKFEK<tspan class="d">-</tspan>NG<tspan class="d">-</tspan>YIYRSDFADCIGMK</text>
<text y="209.4">LDRTRSG<tspan class="d">-</tspan>AHKALRGLRFISSNK<tspan class="d">------</tspan>ANNAWNEVQANFDRLAR<tspan class="d">-</tspan>DG<tspan class="d">-</tspan>YLSRSDFAECIGMT</text>
</g>
</g>

<g id="r2d" transform="translate(1595,244)" style="letter-spacing:0.16px">
<rect class="blk" width="488" height="214"/>
<g transform="translate(2,4) scale(7.683,13.9)">
<rect class="p" x="0" y="0" width="63" height="15"/>
<rect class="w" x="22" y="0" width="1" height="3"/><rect class="w" x="22" y="4" width="1" height="8"/><rect class="w" x="22" y="13" width="1" height="2"/>
<rect class="w" x="2" y="0" width="1" height="1"/><rect class="w" x="2" y="2" width="1" height="1"/><rect class="w" x="2" y="5" width="1" height="2"/>
<rect class="y" x="1" y="5" width="1" height="2"/><rect class="y" x="21" y="3" width="1" height="1"/><rect class="y" x="21" y="12" width="1" height="1"/>
</g>
<g class="sq" transform="translate(2,0)">
<text y="14.8">EA<tspan class="d">-</tspan>AFAGELFDALGRRRGNSAD<tspan class="d">-</tspan>SIDKAELLEYWDDISDTDYTQRLQLFFDMVDKDSDGRISK</text>
<text y="28.7">GSEEFAAQMYDALARRRGIVAD<tspan class="d">-</tspan>VLTKDELRQFWEQLSDPGFDAKLQTFFDMVDKNADGRITE</text>
<text y="42.6">EA<tspan class="d">-</tspan>AFAGELFDALARRRNIAGD<tspan class="d">-</tspan>SINKAELREFWDQISDTSFDSRLQTFLDMVDKDADGKISE</text>
<text y="56.5">DSKEFAGEVFVAMARRRKIEPDQGITKEDLKEFWEEMSDNNFDARLRIFFDMCDKNGDGKLTE</text>
<text y="70.4">DSKEFAVGIFDALARRRRDTLQ<tspan class="d">-</tspan>RVTKEELHDFWLQISDQSFDARLQIFFDMVDTNVDGRITR</text>
<text y="84.3">EN<tspan class="d">-</tspan>AFAGELFDALARRRDISGD<tspan class="d">-</tspan>SISKAELLEFWDQISDTSFDSRLQTFFDMVDKDADGRITE</text>
<text y="98.2">EL<tspan class="d">-</tspan>AFAGELFDALARRRNIAGD<tspan class="d">-</tspan>SISKAELLEFWDQISDTSFDSRLQTFFDMVDKDADGRITE</text>
<text y="112.1">ESKEFAMELFDTLSRRRQMQVD<tspan class="d">-</tspan>HINKQELREIWLQITDNSFDSRLQIFFDMVDKDADGHITE</text>
<text y="126">GSDEFAVQMFDSLARKRGIVKE<tspan class="d">-</tspan>VLTKAELKEFWEQLSDQGFDNRLQTFIDMVDKNADGRITS</text>
<text y="139.9">GSDEFAMQMFDSLARKRGMVKD<tspan class="d">-</tspan>VLTKEELKDFWEQLSDQGFDNRLQTFFDMVDKNADGRITS</text>
<text y="153.8">DSKEFAEGIFDALARRRKQNLE<tspan class="d">-</tspan>RINKEELYDFWLQISDQSFDARLQIFFDMVDTNVDGRITR</text>
<text y="167.7">ESKEFALELFDTLSRRRQMKLD<tspan class="d">-</tspan>TISKEELREIWQQITDNSFDSRLQIFFDMVDKNADGRIGE</text>
<text y="181.6">DSKEFAGELFVTLSRRRSIEPEQGITKEDLREFWTEMTDQNFDSRLRIFFDMCDKNGDGMLTE</text>
<text y="195.5">ESKEFALELFDALSRRRRLKVE<tspan class="d">-</tspan>KINHQELYEYWSQINDESFDSRLQIFFDIVDKNEDGRITE</text>
<text y="209.4">ESKEFALELFDTLSRRRQMKVD<tspan class="d">-</tspan>TINKQELREIWQQITDNSFDSRLQIFFEMVDKNADGRITE</text>
</g>
</g>

<g id="r3a" transform="translate(87,484)" style="letter-spacing:0.55px">
<rect class="blk" width="513" height="214"/>
<g transform="translate(2,4) scale(8.08,13.9)">
<rect class="p" x="0" y="0" width="54" height="15"/><rect class="y" x="54" y="0" width="9" height="15"/>
<rect class="g" x="55" y="2" width="8" height="1"/><rect class="g" x="59" y="5" width="4" height="1"/>
</g>
<g class="sq" transform="translate(2,0)">
<text y="14.8">VEFKDIITLSASANKLKVAEQDSEKYARDIMEKLDPYGLGYIELYDLETLFVKPSNDPA<tspan class="d">-</tspan>SIE</text>
<text y="28.7">EELKEVLTLTASANKLTKILERVDEYTALIMEELDPDQLGYIELATLESLLLLPPSQAPT<tspan class="d">-</tspan>SL</text>
<text y="42.6">QEVKDIITLSVSANKLTMAPHQCEEYARLIMEALDPHGLRYIELYNLKMLLLEAPGEST<tspan class="d">-</tspan>TNN</text>
<text y="56.5">DEVKEIIVLSASANKLANLKKHAATYASLIMEELDPDGRGHIEIMQLEKLLRKMVMADGS<tspan class="d">-</tspan>D<tspan class="d">-</tspan></text>
<text y="70.4">EEVQELIVLSASANKLSRLKEQAEEYALLIMEELDPEGLGYIELWQLEALLLQRDAYMSY<tspan class="d">-</tspan>S<tspan class="d">-</tspan></text>
<text y="84.3">AEVGEIIRLSAAANDLKKITERIEEYARLIMEELDPDNLGYIELYNLETLLLQAPPTQPSRGG</text>
<text y="98.2">EEVKEIITLSATANNLTKVKDQSEEYARLIMEELDPNNLGYIELYNLEMLLLQAPSQSM<tspan class="d">-</tspan>AIG</text>
<text y="112.1">AEVKEIIMLSASANKLARLKEQAEEYAALIMEELDPEGLGYIELWQLETLLLQKDTYVNY<tspan class="d">-</tspan>S<tspan class="d">-</tspan></text>
<text y="126">EEVKEIIALSASANKLSKIKERADEYTALIMEELDPDNLGYIELENLEALLLQPPSEAVA<tspan class="d">-</tspan>ST</text>
<text y="139.9">EEVKEIIALSASANKLSKIKERADEYTALIMEELDPNNLGYIELEDLEALLLQSPSEAVARST</text>
<text y="153.8">EEVQELIVLSASANKLAKLKEQAEEYASLIMEELDPENLGYIELWQLETLLLQRDTYMNY<tspan class="d">-</tspan>S<tspan class="d">-</tspan></text>
<text y="167.7">AEVKEIIMLSASANKLSRLKEQAEEYAALIMEELDPEELGYIELWQLETLLLQKDTYVNY<tspan class="d">-</tspan>S<tspan class="d">-</tspan></text>
<text y="181.6">DEVKEVIILSASANKLAKLKSHAATYSSLIMEELDPDDRGYIEIMQLETLLRGMVSAQAP<tspan class="d">-</tspan>E<tspan class="d">-</tspan></text>
<text y="195.5">EEVKEIIMLSASANKLSRLKEQAEEYAALIMEELDPERLGYIELWQLETLLLQKDTYLNY<tspan class="d">-</tspan>S<tspan class="d">-</tspan></text>
<text y="209.4">AEVKEIIMLSASANKLSRLKEQAEEYAALIMEELDPEGLGYIELWQLETLLLQKDTYMNY<tspan class="d">-</tspan>S<tspan class="d">-</tspan></text>
</g>
</g>

<g id="r3b" transform="translate(601,484)" style="letter-spacing:0.25px">
<rect class="blk" width="494" height="214"/>
<g transform="translate(2,4) scale(7.78,13.9)">
<rect class="p" x="55" y="0" width="8" height="4"/><rect class="p" x="55" y="5" width="8" height="5"/><rect class="p" x="55" y="11" width="8" height="4"/>
<rect class="g" x="4" y="0" width="1" height="1"/><rect class="g" x="7" y="0" width="2" height="1"/><rect class="g" x="11" y="0" width="6" height="1"/><rect class="g" x="22" y="0" width="4" height="1"/><rect class="y" x="33" y="0" width="3" height="1"/>
<rect class="y" x="0" y="1" width="9" height="1"/><rect class="g" x="11" y="1" width="6" height="3"/><rect class="g" x="22" y="1" width="4" height="3"/><rect class="g" x="33" y="1" width="3" height="3"/>
<rect class="y" x="0" y="3" width="8" height="1"/>
<rect class="g" x="0" y="4" width="25" height="1"/><rect class="y" x="30" y="4" width="4" height="1"/><rect class="g" x="48" y="4" width="7" height="1"/><rect class="y" x="55" y="4" width="8" height="1"/>
<rect class="y" x="0" y="5" width="9" height="5"/><rect class="g" x="11" y="5" width="6" height="5"/><rect class="g" x="22" y="5" width="4" height="5"/><rect class="g" x="33" y="5" width="3" height="5"/>
<rect class="y" x="0" y="10" width="8" height="1"/><rect class="g" x="11" y="10" width="20" height="1"/><rect class="p" x="31" y="10" width="12" height="1"/><rect class="y" x="43" y="10" width="19" height="1"/>
<rect class="y" x="0" y="11" width="8" height="4"/><rect class="g" x="11" y="11" width="6" height="4"/><rect class="g" x="22" y="11" width="4" height="4"/><rect class="g" x="33" y="11" width="3" height="4"/>
</g>
<g class="sq" transform="translate(2,0)">
<text y="14.8"><tspan class="d">----</tspan>T<tspan class="d">--</tspan>KT<tspan class="d">--</tspan>NNHEPS<tspan class="d">-----</tspan>KPLT<tspan class="d">-------</tspan>KNN<tspan class="d">-------------------</tspan>PFMRWYRH</text>
<text y="28.7">VAHSSNISQ<tspan class="d">--</tspan>LISRRL<tspan class="d">-----</tspan>VPAR<tspan class="d">-------</tspan>DAN<tspan class="d">-------------------</tspan>PLRRGLTA</text>
<text y="42.6"><tspan class="d">-----------</tspan>RKLNK<tspan class="d">------</tspan>PPTV<tspan class="d">-------</tspan>DAN<tspan class="d">-------------------</tspan>PFRRGLTA</text>
<text y="56.5">DQMDQAST<tspan class="d">---</tspan>SLAKTM<tspan class="d">-----</tspan>VPSS<tspan class="d">-------</tspan>HRS<tspan class="d">-------------------</tspan>PMQKRIHT</text>
<text y="70.4">RPLSSGGSAAQWSQDISQAQEKPAT<tspan class="d">-----</tspan>AAAP<tspan class="d">--------------</tspan>GRGGWRWSPRRAAGR</text>
<text y="84.3">TTSSRNLSQ<tspan class="d">--</tspan>ALSQNL<tspan class="d">-----</tspan>RPTA<tspan class="d">-------</tspan>EPN<tspan class="d">-------------------</tspan>PLRRWYQA</text>
<text y="98.2">TTNSRNLSQ<tspan class="d">--</tspan>ALSQNL<tspan class="d">-----</tspan>RPTA<tspan class="d">-------</tspan>EPN<tspan class="d">-------------------</tspan>PLRRWYQA</text>
<text y="112.1">QALSYTSQ<tspan class="d">---</tspan>ALSQNL<tspan class="d">-----</tspan>AGLR<tspan class="d">-------</tspan>YRS<tspan class="d">-------------------</tspan>PIRKMSSK</text>
<text y="126">ITHSSKLSK<tspan class="d">--</tspan>ALSRRL<tspan class="d">-----</tspan>APSK<tspan class="d">-------</tspan>QRS<tspan class="d">-------------------</tspan>PLRKWYHT</text>
<text y="139.9">ITSSSKLSK<tspan class="d">--</tspan>ALSRRL<tspan class="d">-----</tspan>APSK<tspan class="d">-------</tspan>DTS<tspan class="d">-------------------</tspan>PLRRWYHT</text>
<text y="153.8">RPLSTASG<tspan class="d">---</tspan>AQWSQNLGVGGGGAAAGGGGSKGEEDPQTTWGGMRERRRGWGRGVKKAASH<tspan class="d">-</tspan></text>
<text y="167.7">QALSYTSQ<tspan class="d">---</tspan>ALSQNL<tspan class="d">-----</tspan>A<tspan class="d">-</tspan>LR<tspan class="d">-------</tspan>KRG<tspan class="d">-------------------</tspan>PLRHWYHT</text>
<text y="181.6">VKLKRTTS<tspan class="d">---</tspan>SLARTH<tspan class="d">-----</tspan>IPMR<tspan class="d">-------</tspan>YRS<tspan class="d">-------------------</tspan>PLRKHVTR</text>
<text y="195.5">QALSYTSQ<tspan class="d">---</tspan>ALSQNL<tspan class="d">-----</tspan>AGLR<tspan class="d">-------</tspan>KKS<tspan class="d">-------------------</tspan>PLRKHVTR</text>
<text y="209.4">QALSYTSQ<tspan class="d">---</tspan>ALSQNL<tspan class="d">-----</tspan>AGLR<tspan class="d">-------</tspan>KKS<tspan class="d">-------------------</tspan>PIRKMTSS</text>
</g>
</g>

<g id="r3c" transform="translate(1098,484)" style="letter-spacing:-0.01px">
<rect class="blk" width="530" height="214"/>
<g transform="translate(2,4) scale(7.514,13.9)">
<rect class="p" x="0" y="0" width="70" height="15"/>
<rect class="w" x="7" y="0" width="1" height="15"/><rect class="w" x="40" y="0" width="4" height="15"/><rect class="w" x="68" y="0" width="2" height="15"/>
</g>
<g class="sq" transform="translate(2,0)">
<text y="14.8">TRYFVKD<tspan class="d">-</tspan>NWRRCWVMLLWLSICTSLFAWKFVQYRHRAVF<tspan class="d">----</tspan>DVMGYCVCVAKGGAETLKFNMALI<tspan class="d">--</tspan></text>
<text y="28.7">TRYFLED<tspan class="d">-</tspan>NWKRVWVLLLWLFVFLCLWAYKFSRYRQRAVF<tspan class="d">----</tspan>SVMGYCVCVAKGGAETLKFNMALI<tspan class="d">--</tspan></text>
<text y="42.6">TRYFVKD<tspan class="d">-</tspan>NWRRCWVLLLWLSICTGLFAWKFVQYRHRAVF<tspan class="d">----</tspan>GVMGYCVCVAKGGAETLKFNMALI<tspan class="d">--</tspan></text>
<text y="56.5">TVELHRE<tspan class="d">-</tspan>NWKRIWVLVAWLAIMAGLFAWKFVQYRHRAVF<tspan class="d">----</tspan>AVMGYCVTVAKGAAETLKFNMALI<tspan class="d">--</tspan></text>
<text y="70.4">SRVAAEE<tspan class="d">-</tspan>NWRRVWVLLAWLAAMAGLFAFKFVQYRHRAVF<tspan class="d">----</tspan>EVMGYCVATAKGAAETLKLNMALI<tspan class="d">--</tspan></text>
<text y="84.3">SSYLYLD<tspan class="d">-</tspan>NWRRAWVLALWLGIMAGLFTWKFVQYRRRPVF<tspan class="d">----</tspan>DVMGYCVATAKGAAETLKFNMALV<tspan class="d">--</tspan></text>
<text y="98.2">SSYLYLD<tspan class="d">-</tspan>NWKRVWVLALWLGIMAGLFTWKFIQYRRRSVF<tspan class="d">----</tspan>DVMGYCVAVAKGAAETLKFNMALI<tspan class="d">--</tspan></text>
<text y="112.1">FSYFEED<tspan class="d">-</tspan>NWKRIWVLALWLGIMAALFAWKFMQYRRRHVF<tspan class="d">----</tspan>DVMGYCVTVAKGAAETLKLNMALI<tspan class="d">--</tspan></text>
<text y="126">ASYFRED<tspan class="d">-</tspan>NWRRCWVLVLWLSVMAGLFAWKFVQYRHRTVF<tspan class="d">----</tspan>DVMGYCVCTAKGAAETLKLNMALI<tspan class="d">--</tspan></text>
<text y="139.9">ASYFQED<tspan class="d">-</tspan>NWRRCWVLVLWLSVMAGLFAWKFVQYRHRTVF<tspan class="d">----</tspan>DVMGYCVCTAKGAAETLKLNMALI<tspan class="d">--</tspan></text>
<text y="153.8">RRVAAEE<tspan class="d">-</tspan>NWRRVWVLLAWLAAMAGLFAFKFVQYRRRTVF<tspan class="d">----</tspan>EVMGYCVATAKGAAETLKLNMALI<tspan class="d">--</tspan></text>
<text y="167.7">LSYFLED<tspan class="d">-</tspan>NWKRVWVLALWLGIMAGLFTWKFMQYRRRHVF<tspan class="d">----</tspan>DVMGYCVAVAKGAAETLKFNMALI<tspan class="d">--</tspan></text>
<text y="181.6">TMDFLEH<tspan class="d">-</tspan>NWKRIWVLLAWLVIMAALFAWKFVQYRHRNVF<tspan class="d">----</tspan>DVMGYCVTVAKGAAETLKLNMALI<tspan class="d">--</tspan></text>
<text y="195.5">LSYFLED<tspan class="d">-</tspan>NWKRIWVLALWLGIMAGLFTWKFVQYRRRHVF<tspan class="d">----</tspan>DVMGYCVTVAKGAAETLKFNMALI<tspan class="d">--</tspan></text>
<text y="209.4">SSYFVED<tspan class="d">-</tspan>NWRRAWVLALWLGIMAGLFAWKFVQYRRRHVF<tspan class="d">----</tspan>DVMGYCVTVAKGAAETLKFNMALI<tspan class="d">--</tspan></text>
</g>
</g>

<g id="r3d" transform="translate(1632,484)" style="letter-spacing:-0.08px">
<rect class="blk" width="451" height="214"/>
<g transform="translate(2,4) scale(7.45,13.9)">
<rect class="p" x="0" y="0" width="60" height="15"/>
</g>
<g class="sq" transform="translate(2,0)">
<text y="14.8">LLPVCRNTITWLRTRAAGDFVPFDNNLNFHKVIAVGISVGASLHVISHLACDFPRLLHAT</text>
<text y="28.7">LLPVCRNTITWLRSHTGAGYVPFDDNINFHKVVAVGVAGLHLVAHLSGHLACDFPRLLHA</text>
<text y="42.6">LLPVCRNTITWLRSRTAAGEVPFDDNINFHKVIAVGISLGVGLHAISHLTCDFPRLLNAS</text>
<text y="56.5">LLPVCRNTLSWLRSKTSLGHFIFDDNINFHKVIALGIAIGTGLHAISHLTCDFPRLINAS</text>
<text y="70.4">LLPVCRNTIRLLRSKTRLSSFVFDDNLNFHKVIAVAIALGVGLHAASHLTCDFPRLIAAS</text>
<text y="84.3">LLPVCRNTLRTLRGATKAARFIFDNNVNFHKVIAGGIMLGVGLHAISHLACDFPRLLHAT</text>
<text y="98.2">LLPVCRNTLRTLRGATKAARFIFDNNVNFHKVIAGGIVLGVGLHAISHLACDFPRLLHAT</text>
<text y="112.1">LLPVCRNTITWLRSKTKLGSAVFDDNINFHKVIAGGIVLGVGLHAISHLACDFPRLLHAS</text>
<text y="126">LLPVCRNTITWLRNRTRLGSFVFDDNINFHKVIAVGIAIGVAIHAISHLACDFPRLISAS</text>
<text y="139.9">LLPVCRNTITWLRNRTRLGSFVFDDNINFHKVIAVGIAIGVAIHAISHLACDFPRLISAS</text>
<text y="153.8">LLPVCRNTIRLLRSKTRLSSFVFDDNLNFHKVIAVAIALGVGLHAASHLTCDFPRLIAAS</text>
<text y="167.7">LLPVCRNTITWLRSKTKLGSAVFDDNINFHKVIAGGIVVGVALHAISHLACDFPRLLHAS</text>
<text y="181.6">LLPVCRNTLSWLRSRTSLGHFIFDDNINFHKVIALGIAIGTGLHALSHLTCDFPRLINAS</text>
<text y="195.5">LLPVCRNTITWLRSKTKLGMAVFDDNINFHKVIAVAIAVGTALHSIAHLTCDFPRLLHAT</text>
<text y="209.4">LLPVCRNTITWLRSKTKLGSAVFDDNINFHKVIAGGIVVGVILHAISHLACDFPRLLHAS</text>
</g>
</g>

<g id="r4a" transform="translate(87,721)" style="letter-spacing:0.75px">
<rect class="blk" width="509" height="214"/>
<g transform="translate(2,4) scale(8.279,13.9)">
<rect class="p" x="0" y="0" width="53" height="15"/><rect class="w" x="6" y="0" width="1" height="15"/><rect class="w" x="3" y="0" width="1" height="3"/><rect class="w" x="3" y="4" width="1" height="11"/>
<rect class="y" x="56" y="0" width="5" height="3"/><rect class="p" x="56" y="3" width="5" height="1"/><rect class="y" x="56" y="4" width="5" height="3"/><rect class="p" x="56" y="7" width="5" height="1"/><rect class="y" x="56" y="8" width="5" height="3"/><rect class="p" x="56" y="11" width="5" height="4"/>
</g>
<g class="sq" transform="translate(2,0)">
<text y="14.8">EYE<tspan class="d">-</tspan>PM<tspan class="d">-</tspan>KPFFGDVKPPNYWWFVKGTEGWTGLVMLVMAIAFTLATGWFRRRRR<tspan class="d">---</tspan>LRLSK</text>
<text y="28.7">AYE<tspan class="d">-</tspan>PM<tspan class="d">-</tspan>KPFFGDVKPPNYWWFVKGVEGVTGLVMLVMAIAFTLATRWFRRSRR<tspan class="d">---</tspan>LGAGN</text>
<text y="42.6">AYE<tspan class="d">-</tspan>PM<tspan class="d">-</tspan>KPFFGEVKPPNYWWFVKGTEGWTGLVMLVMAIAFTLATRWFRRSRR<tspan class="d">---</tspan>LPLSK</text>
<text y="56.5">KFQQTL<tspan class="d">-</tspan>GPFFNVVPTWGTLVTSTPGWTGLLMLIAISFAFTLATSHSFRRSRR<tspan class="d">---</tspan>VKLPS</text>
<text y="70.4">EYR<tspan class="d">-</tspan>PL<tspan class="d">-</tspan>TGFFGEVRPPNYWWFVKGVEGVTGIIMVVLMAIAFTLATPWFRRSR<tspan class="d">---</tspan>RTRTS</text>
<text y="84.3">EYE<tspan class="d">-</tspan>PM<tspan class="d">-</tspan>KPFFGEEQPPNYWWFVKGTEGWTGLVMLVMAIAFTLATGWFRRRRR<tspan class="d">---</tspan>LSLPK</text>
<text y="98.2">EYE<tspan class="d">-</tspan>PM<tspan class="d">-</tspan>KPFFGDVKPPNYWWFVKGVEGVTGIIMVVLMAIAFTLATPWFRRSR<tspan class="d">---</tspan>LSLPK</text>
<text y="112.1">EYE<tspan class="d">-</tspan>PM<tspan class="d">-</tspan>KPFFGKPPNYWWFVKGTEGWTGLVMVVLMAIAFTLATPWFRRSRRL<tspan class="d">---</tspan>VKLPK</text>
<text y="126">EYE<tspan class="d">-</tspan>PM<tspan class="d">-</tspan>KPFFGDVKPPNYWWFVKGTEGWTGLVMLVMAIAFTLATPWFRRRRR<tspan class="d">---</tspan>LPKDN</text>
<text y="139.9">EYE<tspan class="d">-</tspan>PM<tspan class="d">-</tspan>KPFFGDVKPPNYWWFVKGTEGWTGLVMLVMAIAFTLATPWFRRRRR<tspan class="d">---</tspan>LPKDN</text>
<text y="153.8">EYR<tspan class="d">-</tspan>PL<tspan class="d">-</tspan>KPFFGEVRPPNYWWFVKGVEGVTGIIMVVLMAIAFTLATPWFRRSR<tspan class="d">---</tspan>RTRTS</text>
<text y="167.7">EYE<tspan class="d">-</tspan>PM<tspan class="d">-</tspan>KPFFGKPPNYWWFVKGTEGWTGIIMVVLMAIAFTLATPWFRRSRRL<tspan class="d">---</tspan>VKLPK</text>
<text y="181.6">KYE<tspan class="d">-</tspan>PL<tspan class="d">-</tspan>RPFFGHFQPNYWGLVVKGTPGWTGILLMLIAISFAFTLATRWFRRS<tspan class="d">---</tspan>VKLPK</text>
<text y="195.5">DYN<tspan class="d">-</tspan>RL<tspan class="d">-</tspan>KPFFGSPQPNYWWFVKGTEGWTGLVMVVLMAIAFTLATPWFRRSRR<tspan class="d">---</tspan>VKLPK</text>
<text y="209.4">KYA<tspan class="d">-</tspan>PL<tspan class="d">-</tspan>KPFFGEPPNYWWFVKGTEGWTGIIMVVLMAIAFTLATPWFRRSRRL<tspan class="d">---</tspan>VKLPK</text>
</g>
</g>

<g id="r4b" transform="translate(601,721)" style="letter-spacing:0.51px">
<rect class="blk" width="494" height="214"/>
<g transform="translate(2,4) scale(8.033,13.9)">
<rect class="y" x="0" y="0" width="19" height="1"/><rect class="y" x="21" y="0" width="3" height="1"/><rect class="y" x="27" y="0" width="4" height="1"/><rect class="p" x="31" y="0" width="30" height="1"/>
<rect class="g" x="0" y="1" width="8" height="1"/><rect class="y" x="14" y="1" width="17" height="1"/><rect class="p" x="31" y="1" width="30" height="1"/>
<rect class="p" x="42" y="2" width="19" height="13"/>
</g>
<g class="sq" transform="translate(2,0)">
<text y="14.8">PKKNDNRPQSKKPDSPPRP<tspan class="d">--</tspan>LTR<tspan class="d">---</tspan>FMRASRKRLNMLVNAFDRTGYNSFLYTHHFFIIV</text>
<text y="28.7">VKRLESLD<tspan class="d">------</tspan>SHPKPIELDRLAMLINTSRSRLTWLVNTFDRLGYDSALYIAMRYLIV</text>
<text y="42.6"><tspan class="d">------------------------------------------</tspan>RLLGTGYNSFLYTHHFFIV</text>
<text y="56.5"><tspan class="d">------------------------------------------</tspan>RHLAGFNAFWYSHHLFVIV</text>
<text y="70.4"><tspan class="d">------------------------------------------</tspan>PHLAGFNAFWYSHHLFVIV</text>
<text y="84.3"><tspan class="d">------------------------------------------</tspan>RKLTGFNAFWYSHHLFVIV</text>
<text y="98.2"><tspan class="d">------------------------------------------</tspan>RKLTGFNAFWYSHHLFVIV</text>
<text y="112.1"><tspan class="d">------------------------------------------</tspan>RHLAGFNAFWYSHHLFVIV</text>
<text y="126"><tspan class="d">------------------------------------------</tspan>RKLAGFNAFWYSHHLFAIV</text>
<text y="139.9"><tspan class="d">------------------------------------------</tspan>RKLAGFNAFWYSHHLFAIV</text>
<text y="153.8"><tspan class="d">------------------------------------------</tspan>RHLAGFNSFWYAHHLFVIV</text>
<text y="167.7"><tspan class="d">------------------------------------------</tspan>RHLTGFNAFWYSHHLFVIV</text>
<text y="181.6"><tspan class="d">------------------------------------------</tspan>RHLLGFNAFWYSHHLFVIV</text>
<text y="195.5"><tspan class="d">------------------------------------------</tspan>RKLSGFNAFWYSHHLFVIV</text>
<text y="209.4"><tspan class="d">------------------------------------------</tspan>RHLTGFNAFWYSHHLFVIV</text>
</g>
</g>

<g id="r4c" transform="translate(1096,721)" style="letter-spacing:0.07px">
<rect class="blk" width="490" height="214"/>
<g transform="translate(2,4) scale(7.594,13.9)">
<rect class="p" x="0" y="0" width="8" height="15"/><rect class="p" x="9" y="0" width="38" height="15"/><rect class="p" x="48" y="0" width="12" height="15"/><rect class="p" x="62" y="0" width="2" height="15"/><rect class="p" x="61" y="2" width="1" height="1"/>
</g>
<g class="sq" transform="translate(2,0)">
<text y="14.8">YALLIVHG<tspan class="d">-</tspan>HGFLYLTKKWDKTTWMYLAVPMIVYACERLTRTLRSRM<tspan class="d">-</tspan>RSVQKVKVAVHP<tspan class="d">--</tspan>DS</text>
<text y="28.7">YALLLVHG<tspan class="d">-</tspan>HGFLYLTKKWDKTTWMYLAVPLLVYAGERLLRALRSSI<tspan class="d">-</tspan>RSVKIVKVAVYP<tspan class="d">--</tspan>GN</text>
<text y="42.6">YALLIVHG<tspan class="d">-</tspan>HGLVYLTKKWDKTTWMYLAVPMIVYACERLTRTLRSRA<tspan class="d">-</tspan>EPVKMLKVAVYP<tspan class="d">-</tspan>PAT</text>
<text y="56.5">YALLVIHG<tspan class="d">-</tspan>HGFLYLTKKWDKTTWMYLAVPVIIYAGERLLRALRSSI<tspan class="d">-</tspan>KPVKILKVAVYP<tspan class="d">--</tspan>GN</text>
<text y="70.4">YALLIVHG<tspan class="d">-</tspan>HGFLYLTKKWDKTTWMYLAVPLLLYLGERLLRFFRSGQ<tspan class="d">-</tspan>RSVKIVKVAVYP<tspan class="d">--</tspan>GN</text>
<text y="84.3">YALLIVHG<tspan class="d">-</tspan>HGFLYLTKKWDKTTWMYLAVPIILYICERLLRALRSSI<tspan class="d">-</tspan>KAVKIVKVAVYP<tspan class="d">--</tspan>GN</text>
<text y="98.2">YALLIVHG<tspan class="d">-</tspan>HGFLYLTKKWDKTTWMYLAVPVLLYICERLLRALRSSI<tspan class="d">-</tspan>KAVKIVKVAVYP<tspan class="d">--</tspan>GN</text>
<text y="112.1">YALLIVHG<tspan class="d">-</tspan>HGFLYLTKKWDKTTWMYLAVPVLLYLCERLIRFFRSGQ<tspan class="d">-</tspan>KSVTIRKVAVYP<tspan class="d">--</tspan>GN</text>
<text y="126">YALLLVHG<tspan class="d">-</tspan>HGFLYLTKKWDKTTWMYLAVPVLLYLGERLLRFFRSGS<tspan class="d">-</tspan>RSVKIVKVAIYP<tspan class="d">--</tspan>GN</text>
<text y="139.9">YALLIVHG<tspan class="d">-</tspan>HGFLYLTKKWDKTTWMYLAVPVLLYLGERLLRFFRSGS<tspan class="d">-</tspan>YSVRLLKVAIYP<tspan class="d">--</tspan>GH</text>
<text y="153.8">YALLIVHG<tspan class="d">-</tspan>HGFLFLTKKWDKTTWMYLAVPVLLYACERLIRAFRSSI<tspan class="d">-</tspan>RSVKIVKVAVYP<tspan class="d">--</tspan>GS</text>
<text y="167.7">YALLIVHG<tspan class="d">-</tspan>HGFLYLTKKWDKTTWMYLAVPVLLYLCERLIRFFRSGQ<tspan class="d">-</tspan>KSVTIRKVAVYP<tspan class="d">--</tspan>GN</text>
<text y="181.6">YALLIVHG<tspan class="d">-</tspan>HGFLYLTKKWDKTTWMYLAVPVLLYLGERLLRFFRSGS<tspan class="d">-</tspan>RSVKIVKVAVYP<tspan class="d">--</tspan>GN</text>
<text y="195.5">YALLIVHG<tspan class="d">-</tspan>HGFLYLTKKWDKTTWMYLAVPVLLYLCERLIRFFRSGQ<tspan class="d">-</tspan>KSVTIRKVAVYP<tspan class="d">--</tspan>GN</text>
<text y="209.4">YALLIVHG<tspan class="d">-</tspan>HGFLYLTKKWDKTTWMYLAVPVLLYLCERLIRFFRSGQ<tspan class="d">-</tspan>KSVTIRKVAVYP<tspan class="d">--</tspan>GN</text>
</g>
</g>

<g id="r4d" transform="translate(1590,721)" style="letter-spacing:0.24px">
<rect class="blk" width="493" height="214"/>
<g transform="translate(2,4) scale(7.762,13.9)">
<rect class="y" x="0" y="0" width="2" height="1"/><rect class="p" x="2" y="0" width="61" height="15"/>
</g>
<g class="sq" transform="translate(2,0)">
<text y="14.8">AALLSLRLSKPEGFTYKSGDYIFVKCPDVSRFEWHPFSITSAPEDDHISVHIKAMGDWTKKLR</text>
<text y="28.7"><tspan class="d">--</tspan>VIAIHMSKPHGFRYRSGDYIYVNCSEVSPFEWHPFTITSAPGDDYLSMHIRCRGDWTSRFR</text>
<text y="42.6"><tspan class="d">--</tspan>LLSLHLSKPQGFRYKSGDYIFVKCPDVSPSQWHPFSITSAPEDDHVSVHIKAAGDWTNQLR</text>
<text y="56.5"><tspan class="d">--</tspan>VLSLYMKKPSNFKYKSGMYLFVKCPDVSPFEWHPFSITSAPGDDYLSVHIRTLGDWTTELR</text>
<text y="70.4"><tspan class="d">--</tspan>VLTITMSKPYGFRYRSGDYVFLQCPTISPFEWHPFSITSAPGDDYISVHIQTRGDWTQELK</text>
<text y="84.3"><tspan class="d">--</tspan>VLSLRFSKPQGFRCKSGDYIFVNCAAVSPFQWHPFSITSAPHDDYISVHIRTLGDWTRELK</text>
<text y="98.2"><tspan class="d">--</tspan>VLSLHFSKPQGFRYKSGDYIFVNCAAVSPFQWHPFSITSAPQDDYVSVHIRTLGDWTRELK</text>
<text y="112.1"><tspan class="d">--</tspan>VLTLQMSKPPTFRYKSGDYMFVQCPAVSPFEWHPFSITSAPGDDFLSIHVRQLGDWTRELK</text>
<text y="126"><tspan class="d">--</tspan>VLALYMTKPPGFRYRSGDYIFINCGAVSPYEWHPFSVTSAPGDNYLSVHIRTRGDWTSRLR</text>
<text y="139.9"><tspan class="d">--</tspan>VLALYMSKPPGFRYRSGDYIFINCGAVSPYEWHPFSITSAPGDNYLSVHIRAKGDWTSRLR</text>
<text y="153.8"><tspan class="d">--</tspan>VLTIKMSKPYGFRYRSGDYIFLQCPIISPFEWHPFSITSAPGDDYLTVHIRTNGDWTQELK</text>
<text y="167.7"><tspan class="d">--</tspan>VLTLQMTKPATFRYKSGDYMFVQCPAVSPFEWHPFSITSAPGDEYLSIHVRQLGDWTRELK</text>
<text y="181.6"><tspan class="d">--</tspan>VLSLHMKKPPGFKYKSGMYLFVKCPDVSPFEWHPFSITSAPGDDYLSVHIRTLGDWTSELR</text>
<text y="195.5"><tspan class="d">--</tspan>VLTLQMSKPTQFRYKSGDYMFVQCPAVSPFEWHPFSITSAPEDDYISIHIRQLGDWTQELK</text>
<text y="209.4"><tspan class="d">--</tspan>VLTLQMSKPPTFRYKSGQYMFVQCPAVSPFEWHPFSITSAPGDDYLSIHVRQLGDWTRELK</text>
</g>
</g>

<g id="r5a" transform="translate(87,962)" style="letter-spacing:0.69px">
<rect class="blk" width="505" height="214"/>
<g transform="translate(2,4) scale(8.213,13.9)">
<rect class="g" x="0" y="0" width="16" height="15"/>
<rect class="y" x="17" y="0" width="7" height="4"/><rect class="y" x="17" y="5" width="7" height="4"/><rect class="y" x="16" y="9" width="6" height="1"/><rect class="y" x="17" y="10" width="4" height="1"/><rect class="y" x="17" y="11" width="12" height="1"/><rect class="y" x="17" y="12" width="4" height="3"/>
<rect class="y" x="26" y="0" width="5" height="1"/><rect class="y" x="26" y="1" width="2" height="1"/><rect class="y" x="26" y="2" width="3" height="1"/><rect class="y" x="24" y="3" width="7" height="1"/><rect class="y" x="26" y="5" width="3" height="4"/>
<rect class="p" x="31" y="0" width="30" height="4"/><rect class="p" x="31" y="5" width="30" height="10"/>
<rect class="y" x="17" y="4" width="7" height="1"/><rect class="y" x="31" y="4" width="13" height="1"/><rect class="g" x="46" y="4" width="8" height="1"/>
</g>
<g class="sq" transform="translate(2,0)">
<text y="14.8">KTFFEASEALTEDKTE<tspan class="d">-</tspan>IRRLEYE<tspan class="d">--</tspan>HGDAPAPRDGLYFPVLIDGPYGAPADDYKQYDTLL</text>
<text y="28.7">AIFSQICRPPSAGQSG<tspan class="d">-</tspan>LLRADFT<tspan class="d">--</tspan>SM<tspan class="d">---</tspan>EHNAKFPFKLVIDGPYGAPAQDYRKYDVLL</text>
<text y="42.6">NAFLKVCSTPTEGKTE<tspan class="d">-</tspan>ILRAEYS<tspan class="d">--</tspan>RDD<tspan class="d">--</tspan>VNSNPSFPKVLIDGPYGAPAQDYKEYDIVL</text>
<text y="56.5">NLFGKACEACGSKKATLSRLETTVVAS<tspan class="d">--</tspan>PEENTRPKFPKVLIDGPYGAPAQNYKKYDILF</text>
<text y="70.4">SVFSKVCRPPTDGKSE<tspan class="d">-</tspan>RAAPRGV<tspan class="d">---</tspan>R<tspan class="d">-</tspan>G<tspan class="d">-</tspan>RRRHAQPEQLPNG<tspan class="d">--</tspan>ADRRAVRR<tspan class="d">-------</tspan></text>
<text y="84.3">NVFSKVCRPPTEGKSG<tspan class="d">-</tspan>LLRAEYD<tspan class="d">--</tspan>RDD<tspan class="d">--</tspan>NMSNPSFPKVLIDGPYGAPAQDYKQYDIVL</text>
<text y="98.2">TVFSEACRPPTAGKSG<tspan class="d">-</tspan>LLRADLS<tspan class="d">--</tspan>VGI<tspan class="d">--</tspan>TDSNARFPKVLIDGPYGAPAQDYSKYDVLL</text>
<text y="112.1">TVFSEACRPPTEGKSG<tspan class="d">-</tspan>LLRADLS<tspan class="d">--</tspan>RGV<tspan class="d">--</tspan>TDSNARFPKVLIDGPYGAPAQDYREYDVLL</text>
<text y="126">TVFSEACRPPTEGKSG<tspan class="d">-</tspan>LLRADLS<tspan class="d">--</tspan>RGV<tspan class="d">--</tspan>TDSNARFPKVLIDGPYGAPAQDYREYDVLL</text>
<text y="139.9">RIFVENYFPPHLNRRTSFSELG<tspan class="d">---</tspan>AA<tspan class="d">----</tspan>EPRTSPPRPLVLIDGPYGAPAQDFRNYDVL</text>
<text y="153.8">NVFSPAACEPPSGKSG<tspan class="d">-</tspan>LLRA<tspan class="d">----</tspan>D<tspan class="d">------</tspan>ETTKSLPKVLIDGPYGAPAQDYGKYDVLL</text>
<text y="167.7">NLFGKCCEAQVTSKKATLSRLETTVVADS<tspan class="d">--</tspan>EDTRPKFPKVLIDGPYGAPAQNYKKYDILL</text>
<text y="181.6">RVFSEVCEPPTEGKSG<tspan class="d">-</tspan>LLRA<tspan class="d">----</tspan>D<tspan class="d">-----</tspan>ETTKSSLPKVLIDGPYGAPAQDYRKYDVLL</text>
<text y="195.5">RVFSEVCEPPAGKSGG<tspan class="d">-</tspan>LLRA<tspan class="d">----</tspan>D<tspan class="d">-----</tspan>ETTKKSLPKVLIDGPYGAPAQDYSKYDVLL</text>
<text y="209.4">RVFAACEPPAGKSGG<tspan class="d">-</tspan>LLRA<tspan class="d">----</tspan>D<tspan class="d">------</tspan>ENTKSSLPKVLIDGPYGAPAQDYSKYDVLL</text>
</g>
</g>

<g id="r5b" transform="translate(597,962)" style="letter-spacing:0.2px">
<rect class="blk" width="491" height="214"/>
<g transform="translate(2,4) scale(7.73,13.9)">
<rect class="p" x="0" y="0" width="9" height="5"/><rect class="p" x="0" y="6" width="9" height="9"/><rect class="p" x="17" y="0" width="17" height="5"/><rect class="p" x="17" y="6" width="17" height="9"/>
<rect class="y" x="36" y="0" width="2" height="1"/><rect class="g" x="38" y="0" width="6" height="1"/>
<rect class="g" x="36" y="1" width="1" height="1"/><rect class="g" x="38" y="1" width="2" height="1"/>
<rect class="y" x="34" y="2" width="4" height="1"/><rect class="g" x="38" y="2" width="6" height="1"/>
<rect class="g" x="36" y="3" width="1" height="1"/><rect class="g" x="38" y="3" width="7" height="1"/>
<rect class="y" x="36" y="4" width="1" height="1"/><rect class="y" x="38" y="4" width="8" height="1"/><rect class="g" x="50" y="4" width="7" height="1"/><rect class="y" x="57" y="4" width="6" height="1"/>
<rect class="g" x="1" y="5" width="8" height="1"/><rect class="b" x="17" y="5" width="4" height="1"/><rect class="g" x="21" y="5" width="7" height="1"/><rect class="b" x="28" y="5" width="7" height="1"/>
<rect class="y" x="36" y="6" width="2" height="1"/><rect class="g" x="38" y="6" width="6" height="1"/>
<rect class="y" x="35" y="7" width="1" height="1"/><rect class="g" x="37" y="7" width="5" height="1"/><rect class="y" x="42" y="7" width="14" height="1"/><rect class="g" x="57" y="7" width="5" height="1"/>
<rect class="y" x="36" y="8" width="1" height="1"/><rect class="y" x="38" y="8" width="6" height="1"/>
<rect class="y" x="36" y="9" width="1" height="1"/><rect class="g" x="38" y="9" width="3" height="1"/><rect class="y" x="41" y="9" width="3" height="1"/>
<rect class="y" x="36" y="10" width="1" height="1"/><rect class="y" x="38" y="10" width="9" height="1"/><rect class="y" x="48" y="10" width="9" height="1"/><rect class="y" x="58" y="10" width="5" height="1"/>
<rect class="y" x="35" y="11" width="1" height="1"/><rect class="g" x="37" y="11" width="5" height="1"/><rect class="y" x="42" y="11" width="14" height="1"/><rect class="g" x="57" y="11" width="5" height="1"/>
<rect class="y" x="36" y="12" width="1" height="1"/><rect class="g" x="38" y="12" width="7" height="1"/>
<rect class="y" x="36" y="13" width="1" height="1"/><rect class="y" x="38" y="13" width="12" height="1"/><rect class="g" x="54" y="13" width="2" height="1"/><rect class="g" x="57" y="13" width="3" height="1"/><rect class="g" x="61" y="13" width="1" height="1"/>
<rect class="y" x="35" y="14" width="1" height="1"/><rect class="g" x="37" y="14" width="5" height="1"/><rect class="y" x="42" y="14" width="14" height="1"/><rect class="g" x="57" y="14" width="5" height="1"/>
</g>
<g class="sq" transform="translate(2,0)">
<text y="14.8">LVGLGIGAT<tspan class="d">--------</tspan>PMISIIKDIINNMKRLPG<tspan class="d">-</tspan>DIESGNPG<tspan class="d">-------------------</tspan></text>
<text y="28.7">LIGLGIGAT<tspan class="d">--------</tspan>PLISIVKDVLNNVHRREE<tspan class="d">-</tspan>H<tspan class="d">-</tspan>AG<tspan class="d">-----------------------</tspan></text>
<text y="42.6">LVGLGIGAT<tspan class="d">--------</tspan>PMISIIKDIINNAKRLGGVDVESGNGN<tspan class="d">-------------------</tspan></text>
<text y="56.5">LIGLGIGAT<tspan class="d">--------</tspan>PFISILKDLLHNIKSNKE<tspan class="d">-</tspan>Q<tspan class="d">-</tspan>DSMHDEE<tspan class="d">------------------</tspan></text>
<text y="70.4">LVGLGIGAT<tspan class="d">--------</tspan>PFISILRDLLNNIKLADE<tspan class="d">-</tspan>L<tspan class="d">-</tspan>MDLSMETS<tspan class="d">----</tspan>RSEDSSNTTFSVS</text>
<text y="84.3"><tspan class="d">-</tspan>AGAGLQAVRRGAAGGAGHRGHAHDLHHDGHHQQH<tspan class="d">----------------------------</tspan></text>
<text y="98.2">LVGLGIGAT<tspan class="d">--------</tspan>PMISIIKDIINNMKRLEG<tspan class="d">-</tspan>DVESGNPG<tspan class="d">-------------------</tspan></text>
<text y="112.1">LVGLGIGAT<tspan class="d">--------</tspan>PFISILKDLINNIKNEE<tspan class="d">-</tspan>E<tspan class="d">-</tspan>DEASTDLYPPIGPSKASVD<tspan class="d">-</tspan>LDTLM<tspan class="d">-</tspan></text>
<text y="126">LIGLGIGAT<tspan class="d">--------</tspan>PLISIVKDVLNHIDRGES<tspan class="d">-</tspan>V<tspan class="d">-</tspan>GGTEPD<tspan class="d">-------------------</tspan></text>
<text y="139.9">LIGLGIGAT<tspan class="d">--------</tspan>PLISIVKDVLNHIDREGS<tspan class="d">-</tspan>V<tspan class="d">-</tspan>RGTEPG<tspan class="d">-------------------</tspan></text>
<text y="153.8">LVGLGIGAT<tspan class="d">--------</tspan>PFISILKDLLNNIKLADE<tspan class="d">-</tspan>L<tspan class="d">-</tspan>MDLAMETTQ<tspan class="d">-</tspan>TSRSQDSAN<tspan class="d">-</tspan>SFSVS</text>
<text y="167.7">LVGLGIGAT<tspan class="d">--------</tspan>PFISILKDLLNNIKNEE<tspan class="d">-</tspan>E<tspan class="d">-</tspan>EDTSTDLYPPVGRNKPHVD<tspan class="d">-</tspan>LGTLM<tspan class="d">-</tspan></text>
<text y="181.6">LIGLGIGAT<tspan class="d">--------</tspan>PFISILKDLLNNIKSNDE<tspan class="d">-</tspan>V<tspan class="d">-</tspan>ESIHGSE<tspan class="d">------------------</tspan></text>
<text y="195.5">LVGLGIGAT<tspan class="d">--------</tspan>PFISILKDLLNNIVKNEE<tspan class="d">-</tspan>H<tspan class="d">-</tspan>ADSISDFSRSSE<tspan class="d">----</tspan>YS<tspan class="d">-</tspan>TGS<tspan class="d">-</tspan>N<tspan class="d">-</tspan></text>
<text y="209.4">LVGLGIGAT<tspan class="d">--------</tspan>PFISILKDLLNNIKNEE<tspan class="d">-</tspan>E<tspan class="d">-</tspan>EDASTDLYPPMGRNKPHVD<tspan class="d">-</tspan>LGTLM<tspan class="d">-</tspan></text>
</g>
</g>

<g id="r5c" transform="translate(1091,962)" style="letter-spacing:0.2px">
<rect class="blk" width="491" height="214"/>
<g transform="translate(2,4) scale(7.73,13.9)">
<rect class="p" x="9" y="0" width="34" height="5"/><rect class="p" x="9" y="6" width="34" height="9"/><rect class="p" x="45" y="0" width="18" height="5"/><rect class="p" x="45" y="6" width="18" height="9"/>
<rect class="g" x="0" y="0" width="3" height="1"/><rect class="g" x="4" y="0" width="5" height="1"/><rect class="g" x="7" y="1" width="2" height="1"/><rect class="g" x="0" y="2" width="9" height="1"/><rect class="g" x="1" y="3" width="3" height="1"/><rect class="g" x="5" y="3" width="4" height="1"/><rect class="y" x="0" y="4" width="9" height="1"/>
<rect class="b" x="3" y="5" width="10" height="1"/><rect class="g" x="13" y="5" width="10" height="1"/><rect class="y" x="23" y="5" width="7" height="1"/><rect class="y" x="58" y="5" width="5" height="1"/>
<rect class="g" x="0" y="6" width="2" height="1"/><rect class="g" x="4" y="6" width="5" height="1"/><rect class="y" x="0" y="7" width="9" height="1"/><rect class="g" x="0" y="8" width="9" height="2"/><rect class="y" x="0" y="10" width="9" height="1"/><rect class="y" x="0" y="11" width="9" height="1"/><rect class="g" x="1" y="12" width="2" height="1"/><rect class="g" x="5" y="12" width="4" height="1"/><rect class="g" x="0" y="13" width="9" height="1"/><rect class="y" x="0" y="14" width="9" height="1"/>
</g>
<g class="sq" transform="translate(2,0)">
<text y="14.8">DAG<tspan class="d">-</tspan>TSSSSFRTRRRAYFYWVTREQGSFEWFHGIMNEVAETDK<tspan class="d">--</tspan>NGVIELHVHCTSVHEEGD</text>
<text y="28.7"><tspan class="d">-------</tspan>DEGFRTRRAYFYWVTREQGSFEWFHGIMNEVAERDAG<tspan class="d">-</tspan>EGVIELHNHCTSVHEEGD</text>
<text y="42.6">GNGNASTSSFRTRRRAYFYWVTREQGSFEWFHGIMNEVAEADE<tspan class="d">--</tspan>KGVIELHNHCTSVYGKGD</text>
<text y="56.5"><tspan class="d">-</tspan>VGS<tspan class="d">-</tspan>AFKSNGFRRRAYFYWVTREQGSFEWFRGVMNEVAEADHR<tspan class="d">--</tspan>NVIEMHNYCTSVYEEGD</text>
<text y="70.4">TASSNKRAYRATYRRAYFYWVTREEGSFEWFKGVMNEVAEYDRD<tspan class="d">--</tspan>GVIELHNYCTSVYEEGD</text>
<text y="84.3"><tspan class="d">---</tspan>EAARRHRVRRQPDRDERYGGVVPDPAG<tspan class="d">----------------------------</tspan>LLLGD</text>
<text y="98.2">DA<tspan class="d">--</tspan>STSTSTRTRRRAYFYWVTREQGSFEWFHGVMNEVAEQDS<tspan class="d">--</tspan>NGVIELHNYCTSVYEEGD</text>
<text y="112.1">RITSKPPRKVFKTRRAYFYWVTREQGSFDWFKGVMNEVAEADKR<tspan class="d">--</tspan>GVIELHNYCTSVYEEGD</text>
<text y="126">GSGKAKKPKMFRTRRAYFYWVTREQGSFEWFHGVMNEVAEADKK<tspan class="d">--</tspan>GVIELHNYCTSVYEEGD</text>
<text y="139.9">GTGKAKKPKMFRTRRAYFYWVTREQGSFEWFHGVMNEVAEADKK<tspan class="d">--</tspan>GVIELHNYCTSVYEEGD</text>
<text y="153.8">TASSNKRSTRAHYRRAYFYWVTREEGSFEWFKGVMNEVAEYDRD<tspan class="d">--</tspan>GVIELHNYCTSVYEEGD</text>
<text y="167.7">RVTTRKRPKAFKTRRAYFYWVTREQGSFDWFKGVMNEVAEADKR<tspan class="d">--</tspan>GVIELHNYCTSVYEEGD</text>
<text y="181.6"><tspan class="d">-</tspan>IG<tspan class="d">--</tspan>SFKNSGFRRRAYFYWVTREQGSFEWFRGVMNEVAEADHR<tspan class="d">--</tspan>NVIEMHNYCTSVYEEGD</text>
<text y="195.5">GDTPRRKRKAFKTRRAYFYWVTREQGSFDWFKGVMNEVAEADKR<tspan class="d">--</tspan>GVIELHNYCTSVYEEGD</text>
<text y="209.4">TITSRPPRKVFKTRRAYFYWVTREQGSFDWFKGVMNEVAEADKR<tspan class="d">--</tspan>GVIELHNYCTSVYEEGD</text>
</g>
</g>

<g id="r5d" transform="translate(1585,962)" style="letter-spacing:0.31px">
<rect class="blk" width="498" height="214"/>
<g transform="translate(2,4) scale(7.84,13.9)">
<rect class="p" x="0" y="0" width="29" height="5"/><rect class="p" x="0" y="6" width="29" height="9"/><rect class="p" x="48" y="0" width="15" height="5"/><rect class="p" x="48" y="6" width="15" height="9"/>
<rect class="g" x="0" y="5" width="9" height="1"/><rect class="g" x="10" y="5" width="12" height="1"/><rect class="y" x="23" y="5" width="17" height="1"/><rect class="b" x="40" y="5" width="8" height="1"/><rect class="y" x="48" y="5" width="11" height="1"/>
</g>
<g class="sq" transform="translate(2,0)">
<text y="14.8">ARSAPITTIDSLNYDKHGIDIISGT<tspan class="d">-</tspan>RVK<tspan class="d">-------------------</tspan>TSLGRANWGDVKRIA</text>
<text y="28.7">ARSALIAMLDLIVYKHNGIVIGSSSSRSV<tspan class="d">-------------------</tspan>THFGRPDWGDVVRIA</text>
<text y="42.6">ARSAIIAMLQLSKHNGIVLGSNSGS<tspan class="d">-</tspan>RVK<tspan class="d">-------------------</tspan>TSLGRPNWGDVKRIA</text>
<text y="56.5">ARSALIAMLDLSYKHNGIDIGSGSGS<tspan class="d">-</tspan>KI<tspan class="d">-------------------</tspan>THFGRPDWGDVVKIA</text>
<text y="70.4">ARSALIAMLTLAYKHNGIVIGSNSGS<tspan class="d">-</tspan>KI<tspan class="d">-------------------</tspan>THFARPNWREVEKFA</text>
<text y="84.3">AGGRLRLVP<tspan class="d">-</tspan>RRHGRGREDEGH<tspan class="d">-</tspan>RAPQLLHQRVRGRGRPVGAHRAPVPPDPARRRRRRR<tspan class="d">----</tspan></text>
<text y="98.2">ARSALIAMLDLNHAKNGVDIVSGT<tspan class="d">-</tspan>RVK<tspan class="d">-</tspan><tspan class="d">-------------------</tspan>THFARPNWSRVKRIA</text>
<text y="112.1">ARSALTMLDLNHAKNGVDIVSGT<tspan class="d">-</tspan>RVK<tspan class="d">--</tspan><tspan class="d">-------------------</tspan>THFARPNWKRVFLSA</text>
<text y="126">ARSALIAMLDLNHAKNGVDIVSGT<tspan class="d">-</tspan>RVK<tspan class="d">-</tspan><tspan class="d">-------------------</tspan>THFARPNWRKVFLSA</text>
<text y="139.9">ARSALIAMLDLNHAKNGVDIVSGT<tspan class="d">-</tspan>RVK<tspan class="d">-</tspan><tspan class="d">-------------------</tspan>THFARPNWRKVFLSA</text>
<text y="153.8">ARSALIAMLTLAYKHNGIVIGSNSGS<tspan class="d">-</tspan>KI<tspan class="d">-------------------</tspan>THFARPNWKEVFKTA</text>
<text y="167.7">ARSALTMLDLNHAKNGVDIVSGT<tspan class="d">-</tspan>RVK<tspan class="d">--</tspan><tspan class="d">-------------------</tspan>THFARPNWKKVFLTA</text>
<text y="181.6">ARSALIAMLDLNHAKNGVDIVSGT<tspan class="d">-</tspan>RVK<tspan class="d">-</tspan><tspan class="d">-------------------</tspan>THFARPNWKKVFLTA</text>
<text y="195.5">ARSALTMLQLNHAKNGVDIVSGT<tspan class="d">-</tspan>KVR<tspan class="d">--</tspan><tspan class="d">-------------------</tspan>THFARPNWKKVLLTS</text>
<text y="209.4">ARSALTMLQLNHAKNGVDIVSGT<tspan class="d">-</tspan>KVR<tspan class="d">--</tspan><tspan class="d">-------------------</tspan>THFARPNWRKVFLSA</text>
</g>
</g>

<g id="r6a" transform="translate(87,1206)" style="letter-spacing:0.28px">
<rect class="blk" width="496" height="214"/>
<g transform="translate(2,4) scale(7.81,13.9)">
<rect class="p" x="58" y="0" width="5" height="15"/><rect class="y" x="58" y="5" width="1" height="1"/>
</g>
<g class="sq" transform="translate(2,0)">
<text y="14.8"><tspan class="d">----------------------------------------------------------</tspan>DENQG</text>
<text y="28.7"><tspan class="d">----------------------------------------------------------</tspan>CDHQG</text>
<text y="42.6"><tspan class="d">----------------------------------------------------------</tspan>DENEG</text>
<text y="56.5"><tspan class="d">----------------------------------------------------------</tspan>NTHKN</text>
<text y="70.4"><tspan class="d">----------------------------------------------------------</tspan>AKHPG</text>
<text y="84.3">LRHPREDALRPPELAQGVQGHRPEARRAASRSVLLRRAGADQGAAPACPRFLEEDEHQIRVPQ</text>
<text y="98.2"><tspan class="d">----------------------------------------------------------</tspan>LNHRE</text>
<text y="112.1"><tspan class="d">----------------------------------------------------------</tspan>AKHPY</text>
<text y="126"><tspan class="d">----------------------------------------------------------</tspan>VNHEN</text>
<text y="139.9"><tspan class="d">----------------------------------------------------------</tspan>VNHEN</text>
<text y="153.8"><tspan class="d">----------------------------------------------------------</tspan>AKQPN</text>
<text y="167.7"><tspan class="d">----------------------------------------------------------</tspan>SKHPY</text>
<text y="181.6"><tspan class="d">----------------------------------------------------------</tspan>NAHKN</text>
<text y="195.5"><tspan class="d">----------------------------------------------------------</tspan>SKHCN</text>
<text y="209.4"><tspan class="d">----------------------------------------------------------</tspan>SKHPY</text>
</g>
</g>

<g id="r6b" transform="translate(586,1206)" style="letter-spacing:0.67px">
<rect class="blk" width="340" height="214"/>
<g transform="translate(2,4) scale(8.195,13.9)">
<rect class="p" x="0" y="0" width="39" height="3"/><rect class="p" x="0" y="3" width="38" height="2"/><rect class="p" x="40" y="3" width="1" height="2"/>
<rect class="p" x="0" y="5" width="14" height="1"/><rect class="y" x="14" y="5" width="4" height="1"/><rect class="y" x="21" y="5" width="3" height="1"/><rect class="p" x="24" y="5" width="4" height="1"/><rect class="y" x="28" y="5" width="9" height="1"/><rect class="p" x="37" y="5" width="3" height="1"/><rect class="b" x="40" y="5" width="1" height="1"/>
<rect class="p" x="0" y="6" width="38" height="2"/><rect class="p" x="40" y="6" width="1" height="2"/>
<rect class="p" x="0" y="8" width="39" height="2"/>
<rect class="p" x="0" y="10" width="38" height="5"/><rect class="p" x="40" y="10" width="1" height="5"/>
</g>
<g class="sq" transform="translate(2,0)">
<text y="14.8">KRVGVFYCGMPMLTKELREHAKVYSRETSTTFEFHKENF<tspan class="d">--</tspan></text>
<text y="28.7">QRVGVFYCGQQKLTPELRRLSHDFSHRTTTKFVFHKENF<tspan class="d">--</tspan></text>
<text y="42.6">KRVGVFYCGEPVLTNKLRRLAKDFSRNTTTKFKFHSENF<tspan class="d">--</tspan></text>
<text y="56.5">ARIGVFYCGSPTLTKTLRELAIEFSHTTTTRFHFHKEN<tspan class="d">--</tspan>F</text>
<text y="70.4">STVGVFYCGKPTLAKELKKLSLEMSHKTTTRFHFHKEY<tspan class="d">--</tspan>F</text>
<text y="84.3">GEFLIFDAGASLVTRSFS<tspan class="d">---</tspan>LFVTRRRSSSFCEEKLCLIY</text>
<text y="98.2">QRVGVFYCGAPVLTKELRELAQDFSRKTNTKFEFHKEN<tspan class="d">--</tspan>F</text>
<text y="112.1">AKIGVFYCGAPVLAQELSNLCHEFNGKCTTKFEFHKEH<tspan class="d">--</tspan>F</text>
<text y="126">QRVGVFYCGEPVLVAQLRQLSADFTHNTNTKFEFHKENF<tspan class="d">--</tspan></text>
<text y="139.9">QRVGVFYCGEPVLVPQLRQLSADFTHKTNTKFEFHKENF<tspan class="d">--</tspan></text>
<text y="153.8">STVGVFYCGAPTLAIELKNLSHEMSHKTSTRFHFHKEY<tspan class="d">--</tspan>F</text>
<text y="167.7">AKIGVFYCGAPVLAQELAKLCHEFNGKCTTKFEFHKEY<tspan class="d">--</tspan>F</text>
<text y="181.6">SRIGVFYCGSPTLTKQLKDLSKEFSQTTTTRFHFHKEN<tspan class="d">--</tspan>F</text>
<text y="195.5">ARIGVFYCGVPVLGKELSKLCNTFNDKGSTKFEFHKEH<tspan class="d">--</tspan>F</text>
<text y="209.4">AKIGVFYCGAPVLAQELSKLCHEFNGKCTTKFEFHKEH<tspan class="d">--</tspan>F</text>
</g>
</g>

<g id="annotations">
<rect class="rb" x="1114" y="241" width="521" height="228"/>
<text class="ann2" x="1372" y="466">NADPH Oxidase</text>
<path class="bb" d="M2083,246 H1928 V469 H2083"/>
<text class="ann" x="2005" y="467">EF1</text>
<path class="bb" d="M89,486 H169 V699 H89"/>
<rect class="bb" x="286" y="476" width="242" height="230"/>
<text class="ann" x="397" y="701">EF2</text>
<rect class="kb" x="1152" y="480" width="246" height="227"/>
<text class="ann" x="1246" y="701">TM1</text>
<rect class="kb" x="1437" y="480" width="192" height="227"/>
<text class="ann" x="1519" y="704">TM2</text>
<rect class="kb" x="1763" y="480" width="180" height="226"/>
<text class="ann" x="1865" y="701">TM3</text>
<text class="ann" x="1822" y="703">*</text><text class="ann" x="1932" y="703">*</text>
<rect class="kb" x="280" y="717" width="226" height="193"/>
<text class="ann" x="393" y="942">TM4</text>
<rect class="kb" x="941" y="717" width="213" height="216"/>
<text class="ann" x="1083" y="944">TM5</text>
<text class="ann" x="1046" y="939">*</text><text class="ann" x="1148" y="939">*</text>
<rect class="kb" x="1242" y="719" width="133" height="227"/>
<text class="ann" x="1308" y="942">TM6</text>
<rect class="rb" x="1845" y="722" width="60" height="227"/>
<text class="ann" x="1876" y="944">FAD</text>
<rect class="rb" x="564" y="955" width="191" height="231"/>
<text class="ann2" x="653" y="1182">NAD(P)H-ribose</text>
<text class="ann" x="733" y="1176" style="fill:#e31a1a">*</text>
<text class="ann" x="1735" y="1176" style="fill:#e31a1a">*</text>
<rect class="rb" x="617" y="1203" width="52" height="220"/>
<text class="ann" x="649" y="1424" style="fill:#2f8fe0">*</text>
<text class="ann2" x="650" y="1446">NAD(P)H-adenine</text>
</g>

<g id="legend">
<rect x="1051" y="1233" width="249" height="30" fill="url(#leg)" stroke="#bbb" stroke-width="1"/>
<g font-family="Liberation Sans, Arial, sans-serif" font-size="22" font-weight="bold" fill="#111">
<text x="1057" y="1257" textLength="54" lengthAdjust="spacingAndGlyphs">BAD</text>
<text x="1137" y="1257" textLength="58" lengthAdjust="spacingAndGlyphs">AVG</text>
<text x="1217" y="1257" textLength="78" lengthAdjust="spacingAndGlyphs">GOOD</text>
</g>
</g>
</svg>
